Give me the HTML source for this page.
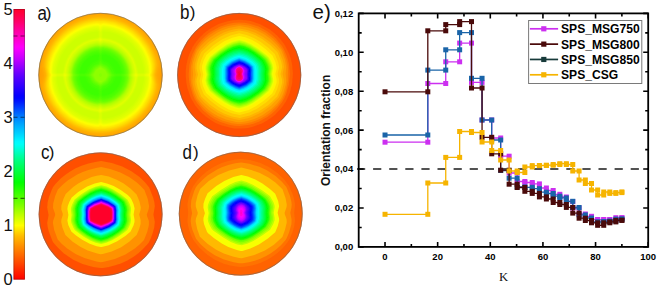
<!DOCTYPE html>
<html><head><meta charset="utf-8"><style>
html,body{margin:0;padding:0;background:#fff;width:660px;height:289px;overflow:hidden}
svg{display:block}
</style></head><body>
<svg width="660" height="289" viewBox="0 0 660 289">
<rect width="660" height="289" fill="#fff"/>
<defs><linearGradient id="cbg" x1="0" y1="1" x2="0" y2="0"><stop offset="0.000" stop-color="#ff0000"/><stop offset="0.010" stop-color="#ff0c00"/><stop offset="0.020" stop-color="#ff1800"/><stop offset="0.030" stop-color="#ff2300"/><stop offset="0.040" stop-color="#ff2f00"/><stop offset="0.050" stop-color="#ff3b00"/><stop offset="0.060" stop-color="#ff4700"/><stop offset="0.070" stop-color="#ff5200"/><stop offset="0.080" stop-color="#ff5d00"/><stop offset="0.090" stop-color="#ff6900"/><stop offset="0.100" stop-color="#ff7400"/><stop offset="0.110" stop-color="#ff8000"/><stop offset="0.120" stop-color="#ff8b00"/><stop offset="0.130" stop-color="#ff9700"/><stop offset="0.140" stop-color="#ffa300"/><stop offset="0.150" stop-color="#ffaf00"/><stop offset="0.160" stop-color="#ffbb00"/><stop offset="0.170" stop-color="#ffca00"/><stop offset="0.180" stop-color="#ffdc00"/><stop offset="0.190" stop-color="#ffed00"/><stop offset="0.200" stop-color="#ffff00"/><stop offset="0.210" stop-color="#eeff00"/><stop offset="0.220" stop-color="#ddff00"/><stop offset="0.230" stop-color="#cdff00"/><stop offset="0.240" stop-color="#bcff00"/><stop offset="0.250" stop-color="#aaff00"/><stop offset="0.260" stop-color="#98ff00"/><stop offset="0.270" stop-color="#86ff00"/><stop offset="0.280" stop-color="#75ff00"/><stop offset="0.290" stop-color="#66ff00"/><stop offset="0.300" stop-color="#57ff00"/><stop offset="0.310" stop-color="#48ff00"/><stop offset="0.320" stop-color="#39ff00"/><stop offset="0.330" stop-color="#2aff00"/><stop offset="0.340" stop-color="#1bff00"/><stop offset="0.350" stop-color="#0cff00"/><stop offset="0.360" stop-color="#00ff03"/><stop offset="0.370" stop-color="#00ff12"/><stop offset="0.380" stop-color="#00ff21"/><stop offset="0.390" stop-color="#00ff31"/><stop offset="0.400" stop-color="#00ff40"/><stop offset="0.410" stop-color="#00ff50"/><stop offset="0.420" stop-color="#00ff60"/><stop offset="0.430" stop-color="#00ff70"/><stop offset="0.440" stop-color="#00ff80"/><stop offset="0.450" stop-color="#00ff94"/><stop offset="0.460" stop-color="#00ffa8"/><stop offset="0.470" stop-color="#00ffbd"/><stop offset="0.480" stop-color="#00ffd1"/><stop offset="0.490" stop-color="#00ffe6"/><stop offset="0.500" stop-color="#00fff8"/><stop offset="0.510" stop-color="#00f9ff"/><stop offset="0.520" stop-color="#00ecff"/><stop offset="0.530" stop-color="#00deff"/><stop offset="0.540" stop-color="#00d1ff"/><stop offset="0.550" stop-color="#00c5ff"/><stop offset="0.560" stop-color="#00b9ff"/><stop offset="0.570" stop-color="#00acff"/><stop offset="0.580" stop-color="#009eff"/><stop offset="0.590" stop-color="#008fff"/><stop offset="0.600" stop-color="#0080ff"/><stop offset="0.610" stop-color="#006eff"/><stop offset="0.620" stop-color="#005cff"/><stop offset="0.630" stop-color="#004aff"/><stop offset="0.640" stop-color="#0038ff"/><stop offset="0.650" stop-color="#0026ff"/><stop offset="0.660" stop-color="#0014ff"/><stop offset="0.670" stop-color="#0006ff"/><stop offset="0.680" stop-color="#0600ff"/><stop offset="0.690" stop-color="#1200ff"/><stop offset="0.700" stop-color="#1e00ff"/><stop offset="0.710" stop-color="#2a00ff"/><stop offset="0.720" stop-color="#3600ff"/><stop offset="0.730" stop-color="#4200ff"/><stop offset="0.740" stop-color="#4e00ff"/><stop offset="0.750" stop-color="#5a00ff"/><stop offset="0.760" stop-color="#6800ff"/><stop offset="0.770" stop-color="#7900ff"/><stop offset="0.780" stop-color="#8a00ff"/><stop offset="0.790" stop-color="#9a00ff"/><stop offset="0.800" stop-color="#ab00ff"/><stop offset="0.810" stop-color="#bc00ff"/><stop offset="0.820" stop-color="#cb00ff"/><stop offset="0.830" stop-color="#d900ff"/><stop offset="0.840" stop-color="#e700ff"/><stop offset="0.850" stop-color="#f500ff"/><stop offset="0.860" stop-color="#ff00f9"/><stop offset="0.870" stop-color="#ff00e9"/><stop offset="0.880" stop-color="#ff00da"/><stop offset="0.890" stop-color="#ff00cb"/><stop offset="0.900" stop-color="#ff00bd"/><stop offset="0.910" stop-color="#ff00af"/><stop offset="0.920" stop-color="#ff00a1"/><stop offset="0.930" stop-color="#ff0090"/><stop offset="0.940" stop-color="#ff0080"/><stop offset="0.950" stop-color="#ff006f"/><stop offset="0.960" stop-color="#ff005e"/><stop offset="0.970" stop-color="#ff0051"/><stop offset="0.980" stop-color="#ff0044"/><stop offset="0.990" stop-color="#ff0037"/><stop offset="1.000" stop-color="#ff002b"/></linearGradient></defs>
<rect x="13.50" y="9.00" width="11.40" height="270.60" fill="url(#cbg)"/>
<rect x="13.90" y="9.40" width="10.60" height="269.80" fill="none" stroke="#000" stroke-opacity="0.3" stroke-width="0.8"/>
<line x1="13.50" y1="198.42" x2="24.90" y2="198.42" stroke="#000" stroke-width="1.1" stroke-dasharray="4 3" opacity="0.55"/>
<line x1="13.50" y1="117.24" x2="24.90" y2="117.24" stroke="#000" stroke-width="1.1" stroke-dasharray="4 3" opacity="0.55"/>
<line x1="13.50" y1="36.06" x2="24.90" y2="36.06" stroke="#000" stroke-width="1.1" stroke-dasharray="4 3" opacity="0.55"/>
<text x="12.8" y="285.20" font-family='"Liberation Sans", sans-serif' font-size="16.5" text-anchor="end" fill="#111">0</text>
<text x="12.8" y="231.08" font-family='"Liberation Sans", sans-serif' font-size="16.5" text-anchor="end" fill="#111">1</text>
<text x="12.8" y="176.96" font-family='"Liberation Sans", sans-serif' font-size="16.5" text-anchor="end" fill="#111">2</text>
<text x="12.8" y="122.84" font-family='"Liberation Sans", sans-serif' font-size="16.5" text-anchor="end" fill="#111">3</text>
<text x="12.8" y="68.72" font-family='"Liberation Sans", sans-serif' font-size="16.5" text-anchor="end" fill="#111">4</text>
<text x="12.8" y="14.60" font-family='"Liberation Sans", sans-serif' font-size="16.5" text-anchor="end" fill="#111">5</text>
<defs><filter id="pfblur" x="-10%" y="-10%" width="120%" height="120%"><feGaussianBlur stdDeviation="0.6"/></filter></defs>
<clipPath id="cpa"><circle cx="100.50" cy="75.00" r="62.10"/></clipPath>
<g clip-path="url(#cpa)"><g filter="url(#pfblur)">
<circle cx="100.50" cy="75.00" r="66.10" fill="#ff8400"/>
<path d="M163.4 137.9L37.9 137.9L37.9 12.4L163.4 12.4L163.4 137.9Z" fill="#ff8900" fill-rule="evenodd"/>
<path d="M142.4 137.9L57.9 137.9L54.9 135.4L54.4 135.4L52.4 133.4L51.9 133.4L42.4 123.9L42.4 123.4L38.9 119.4L38.9 118.9L37.9 117.9L37.9 31.9L40.9 28.4L40.9 27.9L43.4 25.4L43.4 24.9L46.4 21.9L50.4 17.9L50.9 17.9L53.4 15.4L53.9 15.4L57.4 12.4L143.4 12.4L146.4 14.9L146.9 14.9L148.9 16.9L149.4 16.9L158.9 26.4L158.9 26.9L162.4 30.9L162.4 31.4L163.4 32.4L163.4 117.4L161.4 119.9L161.4 120.4L159.4 122.4L159.4 122.9L151.9 130.9L151.4 130.9L148.4 133.9L147.9 133.9L143.9 137.4L142.4 137.9Z" fill="#ff8e00" fill-rule="evenodd"/>
<path d="M136.9 137.9L64.0 137.9L56.4 132.8L49.4 126.7L43.3 119.9L37.9 112.0L37.9 38.0L42.9 30.6L48.9 23.8L55.9 17.6L63.5 12.4L137.5 12.4L145.4 17.8L152.2 23.9L158.3 30.9L163.3 38.4L163.4 111.5L158.1 119.4L151.9 126.4L144.5 132.9L136.9 137.9Z" fill="#ff9200" fill-rule="evenodd"/>
<path d="M130.4 137.9L70.1 137.9L60.4 132.2L51.4 124.7L43.9 115.9L37.9 106.0L37.9 44.0L43.7 34.4L50.9 25.8L59.6 18.4L69.5 12.4L131.5 12.4L141.4 18.4L149.9 25.6L157.3 34.4L163.3 44.4L163.4 105.4L160.4 110.9L157.1 115.9L153.4 120.6L149.4 124.9L144.9 128.9L139.9 132.7L134.4 136.1L130.4 137.9Z" fill="#ff9700" fill-rule="evenodd"/>
<path d="M123.4 137.9L77.5 137.9L73.4 136.2L67.4 133.2L61.9 129.7L57.4 126.3L52.2 121.4L47.1 115.4L43.6 110.4L40.6 104.9L38.1 99.4L37.9 78.4L38.5 74.9L37.9 71.6L37.9 51.2L39.3 47.9L42.6 41.4L46.1 35.9L50.1 30.9L54.4 26.4L59.4 22.1L64.4 18.6L70.4 15.2L76.4 12.5L124.3 12.4L127.4 13.7L133.4 16.7L138.9 20.1L143.9 24.0L149.1 28.9L153.8 34.4L157.2 39.4L160.6 45.4L163.2 51.4L163.4 70.7L162.5 74.9L163.4 79.3L163.4 97.9L161.2 103.4L158.3 108.9L154.7 114.4L150.2 119.9L145.4 124.7L140.4 128.8L135.4 132.2L128.9 135.7L123.4 137.9Z" fill="#ff9c00" fill-rule="evenodd"/>
<path d="M114.4 137.9L86.2 137.9L76.4 134.8L67.4 130.4L62.2 126.9L57.4 123.0L52.9 118.5L49.1 113.9L45.6 108.9L42.6 103.4L40.2 97.9L38.5 92.4L37.9 88.9L38.0 85.4L40.2 77.4L40.5 74.9L40.1 72.4L38.1 65.4L38.0 60.4L38.8 56.4L40.3 51.9L44.8 42.4L48.4 37.0L52.4 32.0L56.9 27.5L61.9 23.3L67.4 19.6L72.9 16.7L78.9 14.2L85.0 12.4L116.0 12.4L124.9 15.3L132.9 19.2L137.9 22.5L142.9 26.4L147.4 30.7L151.4 35.4L154.9 40.4L158.1 45.9L160.7 51.9L162.5 57.4L163.1 60.9L163.0 64.4L160.5 74.9L160.8 77.4L162.9 84.9L163.0 89.9L162.1 93.9L160.6 98.4L155.9 108.0L152.3 113.4L147.9 118.7L143.1 123.4L138.1 127.4L132.4 131.1L126.4 134.1L119.9 136.5L114.4 137.9Z" fill="#ffa100" fill-rule="evenodd"/>
<path d="M104.9 136.9L93.9 136.7L88.4 135.9L82.9 134.5L77.4 132.6L72.4 130.3L67.4 127.5L62.9 124.4L54.7 116.9L51.0 112.4L47.9 107.9L45.1 102.9L42.6 97.4L41.0 92.4L40.2 87.9L40.4 83.9L42.5 75.4L42.3 72.9L40.3 64.9L40.7 58.9L42.1 53.9L44.4 48.4L47.4 42.9L50.8 37.9L54.9 32.9L59.5 28.4L64.9 24.2L70.4 20.7L76.4 17.8L82.9 15.5L89.4 13.9L95.9 13.1L106.9 13.3L112.4 14.1L117.9 15.4L123.4 17.3L128.4 19.6L133.4 22.4L137.9 25.5L146.1 32.9L149.9 37.4L153.0 41.9L155.8 46.9L158.3 52.4L160.0 57.4L160.8 61.9L160.6 65.9L158.5 74.9L158.8 77.4L160.7 84.9L160.4 90.9L158.9 95.9L156.7 101.4L153.7 106.9L150.4 111.9L146.3 116.9L141.4 121.7L136.0 125.9L130.4 129.4L124.4 132.3L117.9 134.6L111.4 136.1L104.9 136.9Z" fill="#ffa500" fill-rule="evenodd"/>
<path d="M107.9 134.9L102.4 135.3L96.9 135.3L91.4 134.7L85.9 133.6L80.4 131.9L75.4 129.9L70.4 127.3L65.8 124.4L61.4 121.0L57.4 117.3L53.5 112.9L50.2 108.4L47.2 103.4L44.7 97.9L42.9 92.9L41.9 88.4L42.0 83.9L43.6 77.4L43.9 74.9L41.9 65.4L42.2 59.9L43.4 55.4L45.6 49.9L51.0 40.4L54.9 35.4L59.3 30.9L64.0 26.9L69.4 23.3L74.9 20.3L80.9 17.9L86.9 16.2L92.9 15.1L98.4 14.7L103.9 14.7L109.4 15.3L114.9 16.4L120.4 18.0L125.4 20.0L134.9 25.4L139.4 28.8L143.4 32.5L147.3 36.9L150.6 41.4L153.7 46.4L156.1 51.4L158.1 56.9L159.0 61.4L159.0 65.9L157.1 74.9L159.1 84.4L158.8 89.9L157.6 94.4L155.5 99.9L150.1 109.4L146.2 114.4L141.9 118.9L137.2 122.9L131.9 126.6L126.4 129.5L120.4 132.0L114.4 133.7L107.9 134.9Z" fill="#ffaa00" fill-rule="evenodd"/>
<path d="M107.9 133.9L102.4 134.4L96.9 134.3L86.4 132.7L80.9 131.1L75.9 129.1L70.9 126.5L66.4 123.6L61.9 120.1L57.9 116.4L54.4 112.4L51.0 107.9L48.1 102.9L45.7 97.9L43.9 92.9L42.9 88.4L42.9 83.9L44.7 74.9L42.8 65.9L43.1 60.4L44.3 55.9L46.2 50.9L51.5 41.4L55.4 36.4L59.6 31.9L64.4 27.8L69.4 24.4L74.9 21.4L80.9 18.9L86.9 17.2L92.9 16.1L98.4 15.6L103.9 15.7L109.4 16.3L114.9 17.4L120.4 19.0L125.4 21.1L134.7 26.4L139.2 29.9L143.4 33.9L150.2 42.4L153.1 47.4L155.4 52.4L157.2 57.4L158.1 61.9L158.1 66.4L156.3 74.9L158.2 84.4L157.9 89.9L156.6 94.4L154.7 99.4L152.1 104.4L149.3 108.9L145.4 113.9L141.1 118.4L136.4 122.3L131.4 125.7L125.9 128.7L119.9 131.1L113.9 132.9L107.9 133.9Z" fill="#ffaf00" fill-rule="evenodd"/>
<path d="M102.4 133.4L93.9 133.1L87.9 132.1L82.4 130.6L72.9 126.6L68.9 124.2L63.9 120.6L59.4 116.6L55.5 112.4L49.6 103.9L47.1 98.9L45.1 93.9L44.1 90.4L43.6 86.4L43.7 83.9L45.5 75.4L45.4 73.4L43.6 65.4L44.1 59.9L45.6 54.9L48.1 48.9L50.6 44.4L54.1 39.4L57.5 35.4L62.4 30.6L68.4 26.1L73.4 23.1L78.9 20.6L84.9 18.6L91.9 17.1L97.9 16.5L103.9 16.6L108.9 17.1L119.4 19.6L128.4 23.6L133.4 26.6L137.4 29.6L141.6 33.4L145.3 37.4L150.7 44.9L155.3 54.4L156.7 58.9L157.4 63.4L157.2 66.9L155.6 74.9L155.9 77.9L157.3 83.9L157.3 87.9L156.7 90.9L155.1 95.9L152.7 101.4L150.2 105.9L146.7 110.9L142.3 115.9L136.9 120.8L131.4 124.7L126.9 127.2L121.4 129.7L114.9 131.7L107.4 133.1L102.4 133.4Z" fill="#ffb300" fill-rule="evenodd"/>
<path d="M102.4 132.9L92.4 132.4L82.4 130.0L72.9 125.9L64.4 120.3L56.9 113.2L50.9 104.9L48.2 99.9L46.1 94.9L44.7 90.4L44.1 86.4L44.4 82.9L45.9 75.4L45.7 72.9L44.2 65.9L44.7 59.9L46.2 54.9L48.5 49.4L51.4 44.2L54.9 39.3L58.9 34.7L63.5 30.4L68.4 26.8L74.2 23.4L79.9 20.8L85.9 18.9L91.9 17.7L98.4 17.1L108.9 17.7L118.9 20.1L128.4 24.2L136.9 29.9L144.4 37.2L150.4 45.6L153.0 50.4L155.0 55.4L156.3 59.9L156.9 63.9L156.7 66.9L155.1 74.9L156.8 84.4L156.3 90.4L154.7 95.4L152.3 100.9L149.4 106.1L146.0 110.9L141.9 115.5L137.1 119.9L131.9 123.7L126.4 126.8L120.9 129.2L114.9 131.1L108.9 132.3L102.4 132.9Z" fill="#ffb800" fill-rule="evenodd"/>
<path d="M102.4 132.4L92.7 131.9L82.4 129.5L72.9 125.4L64.7 119.9L60.7 116.4L56.9 112.4L50.9 104.0L48.4 99.2L46.4 94.3L45.1 89.9L44.6 85.9L44.8 82.9L46.3 75.4L44.7 65.9L44.7 62.9L45.3 59.4L46.9 54.4L49.3 48.9L52.2 43.9L55.4 39.4L59.4 34.9L63.9 30.7L69.1 26.9L74.4 23.8L79.9 21.4L86.1 19.4L91.9 18.2L98.4 17.6L108.9 18.2L118.3 20.4L127.7 24.4L136.4 30.2L143.9 37.4L149.9 45.7L152.4 50.4L154.5 55.4L155.9 60.2L156.4 63.9L156.1 67.4L154.7 74.9L156.4 84.4L155.9 89.8L154.4 94.8L152.0 100.4L149.4 105.1L145.9 110.2L141.9 114.8L137.4 119.0L132.2 122.9L126.9 126.0L121.4 128.5L114.9 130.6L108.4 131.9L102.4 132.4Z" fill="#ffbd00" fill-rule="evenodd"/>
<path d="M107.4 131.4L96.9 131.7L86.4 130.1L76.4 126.5L67.7 121.4L63.4 118.1L59.5 114.4L53.1 106.4L50.4 101.9L48.0 96.9L46.3 91.9L45.3 87.4L45.3 83.4L46.8 74.9L45.2 66.4L45.6 60.9L46.8 56.4L48.8 51.4L53.9 42.4L57.4 37.9L61.8 33.4L66.4 29.5L71.0 26.4L76.4 23.5L81.9 21.3L87.4 19.7L93.4 18.6L103.9 18.3L113.9 19.8L123.9 23.2L133.0 28.4L137.4 31.8L141.3 35.4L147.7 43.4L150.5 47.9L152.9 52.9L154.7 57.9L155.7 62.4L155.7 66.9L154.2 74.9L155.8 83.9L155.5 88.9L154.3 93.4L152.3 98.4L147.2 107.4L143.4 112.3L139.4 116.4L134.9 120.2L129.9 123.6L124.4 126.6L118.9 128.8L113.4 130.4L107.4 131.4Z" fill="#ffc300" fill-rule="evenodd"/>
<path d="M105.9 130.9L95.9 131.0L85.9 129.2L76.4 125.7L67.4 120.4L59.5 113.4L53.3 105.4L50.6 100.9L48.4 95.9L46.7 90.9L45.9 86.9L45.9 82.9L47.3 74.9L45.8 66.4L46.2 60.9L47.5 56.4L49.5 51.4L51.9 46.8L54.9 42.2L58.8 37.4L62.9 33.3L67.4 29.6L72.4 26.4L77.9 23.6L83.4 21.5L88.9 20.0L94.9 19.1L105.4 19.0L115.4 20.8L124.9 24.4L133.9 29.8L141.8 36.9L147.9 44.9L150.5 49.4L152.8 54.4L154.4 59.4L155.2 63.4L155.1 67.4L153.7 74.9L155.2 83.4L154.8 88.9L153.6 93.4L151.4 98.8L148.9 103.5L145.9 108.1L142.0 112.9L137.9 116.9L133.4 120.5L128.4 123.8L122.9 126.5L117.4 128.6L111.9 130.0L105.9 130.9Z" fill="#ffca00" fill-rule="evenodd"/>
<path d="M103.9 130.4L93.9 130.1L84.4 128.1L74.9 124.3L66.5 118.9L59.0 111.9L53.1 103.9L50.6 99.4L48.5 94.4L47.1 89.9L46.4 85.9L46.5 82.4L47.8 74.9L46.4 66.4L46.9 60.9L48.4 55.9L50.5 50.9L53.2 45.9L56.3 41.4L60.1 36.9L64.4 32.8L69.4 29.0L74.4 26.0L79.9 23.4L85.4 21.6L90.9 20.3L96.9 19.6L106.9 19.9L116.9 22.0L125.9 25.6L134.4 31.0L141.9 38.0L148.1 46.4L150.5 50.9L152.6 55.9L154.0 60.4L154.6 64.4L154.5 67.9L153.2 74.9L154.6 83.4L154.0 89.4L152.5 94.4L150.4 99.4L147.6 104.4L144.5 108.9L140.6 113.4L136.3 117.4L131.4 121.1L126.4 124.1L120.9 126.6L115.4 128.5L109.9 129.7L103.9 130.4Z" fill="#ffd100" fill-rule="evenodd"/>
<path d="M107.4 129.4L97.9 129.8L87.9 128.4L82.7 126.9L77.7 124.9L68.9 119.8L64.5 116.4L60.9 113.0L54.5 104.9L51.9 100.4L49.4 95.0L47.9 90.4L47.1 86.4L47.1 81.9L48.3 74.9L47.0 66.9L47.4 61.7L48.4 57.9L50.4 52.7L52.9 47.7L55.9 43.1L59.4 38.7L63.4 34.6L67.9 30.9L72.4 27.9L78.2 24.9L83.3 22.9L88.9 21.4L94.4 20.5L104.4 20.3L114.3 21.9L123.9 25.4L132.4 30.4L140.0 36.9L146.4 45.0L148.9 49.2L151.3 54.4L152.9 58.9L153.9 63.4L153.9 67.9L152.7 74.9L154.0 82.9L153.6 88.4L152.4 92.7L150.4 97.8L145.4 106.5L141.9 111.0L137.9 115.1L133.4 118.9L128.9 121.9L123.4 124.9L118.4 126.9L113.1 128.4L107.4 129.4Z" fill="#ffd800" fill-rule="evenodd"/>
<path d="M105.4 128.9L95.4 128.9L85.9 127.1L76.4 123.5L67.9 118.2L60.4 111.4L54.4 103.4L51.9 98.9L49.8 93.9L48.4 89.4L47.7 85.4L47.8 80.9L48.9 74.9L47.6 67.4L48.2 61.4L49.5 56.9L51.5 51.9L53.9 47.4L56.9 42.9L60.6 38.4L64.7 34.4L69.1 30.9L73.9 27.8L78.9 25.3L84.4 23.3L89.9 21.9L95.4 21.1L105.4 21.1L114.9 22.8L124.4 26.4L132.9 31.6L140.4 38.4L146.5 46.4L149.0 50.9L151.2 55.9L152.6 60.4L153.3 64.4L153.2 68.9L152.1 74.9L153.4 82.4L152.9 88.4L151.4 93.4L149.4 98.3L146.9 102.9L143.9 107.4L140.1 111.9L136.0 115.9L131.5 119.4L126.9 122.3L121.9 124.7L116.4 126.8L110.9 128.1L105.4 128.9Z" fill="#ffdf00" fill-rule="evenodd"/>
<path d="M107.9 127.9L103.4 128.4L97.4 128.4L87.9 126.9L78.4 123.7L69.9 118.8L62.3 112.4L55.9 104.4L51.1 95.4L49.4 90.6L48.5 86.4L48.3 81.4L49.5 74.9L48.3 68.4L48.7 62.4L49.9 57.9L51.6 53.4L53.9 48.9L56.7 44.4L60.2 39.9L63.9 36.1L67.9 32.7L72.4 29.5L77.4 26.8L82.4 24.7L87.4 23.2L92.9 22.1L97.4 21.6L103.4 21.6L112.9 23.0L122.4 26.2L126.9 28.5L131.4 31.4L139.0 37.9L145.3 45.9L150.0 54.9L151.7 59.9L152.6 63.9L152.7 68.9L151.5 74.9L152.7 81.9L152.3 87.9L149.3 96.9L144.4 105.5L141.0 109.9L137.1 113.9L132.9 117.5L128.4 120.6L123.4 123.3L118.4 125.4L113.4 126.9L107.9 127.9Z" fill="#ffe600" fill-rule="evenodd"/>
<path d="M106.4 127.4L102.9 127.7L100.4 127.2L96.4 127.6L86.9 126.0L77.9 122.7L69.4 117.6L61.9 110.9L55.9 103.1L53.4 98.7L51.3 93.9L49.8 89.4L49.0 85.4L49.1 79.4L50.0 74.9L49.3 72.4L48.9 68.4L49.4 62.3L50.6 57.9L52.6 52.9L55.0 48.4L57.9 43.9L61.4 39.6L65.1 35.9L69.4 32.4L73.9 29.5L78.9 26.9L83.9 24.9L88.9 23.6L94.4 22.6L98.4 22.4L100.4 22.8L104.4 22.4L113.9 24.0L123.2 27.4L131.6 32.4L138.9 38.9L145.1 46.9L149.7 55.9L151.3 60.9L152.0 64.9L151.9 71.4L151.0 74.9L151.7 77.4L152.1 81.4L151.6 87.9L150.3 92.4L148.4 97.1L143.2 105.9L139.9 110.1L135.9 114.1L131.4 117.7L126.9 120.7L121.9 123.2L116.9 125.1L111.9 126.5L106.4 127.4Z" fill="#ffed00" fill-rule="evenodd"/>
<path d="M103.9 126.9L100.4 126.2L98.4 126.9L94.4 126.7L84.9 124.6L76.4 121.1L68.3 115.9L61.4 109.3L55.7 101.4L51.5 92.4L50.1 87.9L49.5 83.9L49.7 77.9L50.6 74.9L49.7 72.4L49.5 68.4L50.3 61.4L51.7 56.9L53.9 51.9L56.4 47.4L59.5 42.9L63.0 38.9L66.9 35.3L71.3 31.9L75.9 29.1L80.9 26.8L85.9 25.0L91.4 23.8L96.9 23.1L98.4 23.1L100.4 23.8L102.9 23.1L106.4 23.3L115.9 25.3L124.9 29.0L132.9 34.3L139.9 41.0L145.5 48.9L149.6 57.9L150.9 62.4L151.5 66.4L151.3 72.4L150.4 74.9L151.2 77.4L151.5 81.4L150.7 88.4L149.2 93.4L147.0 98.4L144.4 102.9L141.4 107.2L137.9 111.2L133.9 114.9L129.4 118.3L124.9 121.0L119.9 123.3L114.9 125.0L109.4 126.3L103.9 126.9Z" fill="#fff400" fill-rule="evenodd"/>
<path d="M106.9 125.9L102.9 126.2L100.4 125.3L98.4 126.2L96.9 126.2L87.9 124.8L78.9 121.6L70.4 116.6L62.9 110.0L57.1 102.4L52.6 93.4L51.1 88.9L50.3 84.9L50.2 77.9L51.1 74.9L50.3 72.9L50.1 70.4L50.1 66.4L50.7 62.9L51.9 58.4L53.9 53.4L58.9 44.9L62.1 40.9L65.9 37.1L69.9 33.8L74.4 30.8L78.9 28.4L83.9 26.4L88.9 25.0L93.9 24.1L97.9 23.8L100.4 24.7L102.4 23.9L103.9 23.8L112.9 25.2L122.1 28.4L130.6 33.4L137.9 39.8L143.9 47.6L148.4 56.4L149.8 60.9L150.8 65.4L150.8 71.9L149.9 74.9L150.7 77.4L150.9 80.4L150.3 87.4L147.2 96.4L142.2 104.9L139.1 108.9L135.4 112.7L131.4 116.0L126.9 119.0L122.4 121.4L117.4 123.5L112.4 124.9L106.9 125.9Z" fill="#fffb00" fill-rule="evenodd"/>
<path d="M105.4 125.4L102.4 125.4L100.4 124.4L98.4 125.5L95.9 125.5L86.4 123.7L77.4 120.1L69.4 115.0L62.4 108.4L56.9 100.8L52.7 91.9L51.4 87.4L50.8 83.4L50.7 77.9L51.7 74.9L50.8 72.9L50.6 70.4L50.8 66.4L51.5 62.4L52.8 57.9L54.9 52.9L60.1 44.4L63.5 40.4L67.4 36.6L71.4 33.5L75.9 30.7L80.4 28.5L85.4 26.6L90.4 25.4L95.4 24.6L98.4 24.5L100.4 25.6L102.4 24.6L104.9 24.5L114.4 26.3L123.4 29.8L131.4 34.9L138.4 41.4L143.9 48.9L148.2 57.9L149.5 62.4L150.2 66.4L150.3 72.4L149.3 74.9L150.3 77.4L150.4 79.4L150.2 83.4L149.6 87.4L148.3 91.9L146.2 96.9L143.7 101.4L140.9 105.6L137.7 109.4L133.9 113.1L129.9 116.3L125.4 119.1L120.9 121.4L115.9 123.3L110.9 124.6L105.4 125.4Z" fill="#fcff00" fill-rule="evenodd"/>
<path d="M107.9 124.4L102.9 124.8L100.4 123.5L98.4 124.8L96.9 124.9L88.9 123.6L79.9 120.5L71.4 115.6L64.2 109.4L58.4 101.9L54.0 93.4L52.5 88.9L51.5 84.4L51.2 77.9L52.2 74.9L51.2 71.9L51.8 63.9L54.7 54.9L59.5 46.4L65.9 38.9L69.9 35.5L73.9 32.7L78.4 30.2L82.9 28.2L87.9 26.6L92.9 25.6L97.9 25.1L100.4 26.5L102.4 25.3L103.9 25.1L111.9 26.3L120.9 29.4L129.4 34.2L136.6 40.4L142.5 47.9L146.9 56.4L148.5 60.9L149.5 65.4L149.8 72.4L148.8 74.9L149.8 77.4L149.8 79.9L149.1 86.4L146.1 95.4L141.3 103.9L134.8 111.4L126.9 117.5L122.4 119.9L117.9 121.9L112.9 123.4L107.9 124.4Z" fill="#f5ff00" fill-rule="evenodd"/>
<path d="M106.9 123.9L102.9 124.2L100.4 122.3L98.9 123.8L97.9 124.2L93.4 123.8L88.4 122.8L79.4 119.6L71.4 114.8L64.2 108.4L58.5 100.9L54.3 92.4L52.9 87.9L52.0 83.4L51.7 77.4L53.2 74.9L51.9 73.4L51.6 71.9L52.6 63.4L55.7 54.4L60.7 45.9L63.9 41.9L67.4 38.4L71.4 35.2L75.4 32.5L84.4 28.4L93.9 26.1L98.4 25.9L100.4 27.7L102.4 26.0L103.4 25.8L107.9 26.2L112.9 27.3L121.9 30.6L129.9 35.4L136.9 41.7L142.7 49.4L146.8 57.9L148.2 62.4L149.0 66.9L149.3 72.4L148.9 73.7L147.8 74.9L148.9 76.4L149.4 77.9L149.1 82.4L148.3 86.9L145.2 95.9L140.1 104.4L136.9 108.3L133.4 111.7L125.4 117.6L116.4 121.7L106.9 123.9Z" fill="#eeff00" fill-rule="evenodd"/>
<path d="M105.4 123.4L102.4 123.3L100.4 120.9L99.1 122.9L97.9 123.5L92.9 123.1L86.9 121.7L78.4 118.4L70.4 113.2L63.4 106.5L58.1 98.9L54.3 90.4L52.4 81.4L52.3 76.9L54.6 74.9L52.5 73.4L52.2 72.4L52.5 67.4L53.6 61.9L57.1 52.9L62.3 44.9L68.9 38.0L76.9 32.4L85.9 28.6L95.4 26.6L98.4 26.6L100.4 29.1L100.9 28.9L102.1 26.9L103.4 26.5L108.4 27.0L113.9 28.2L122.9 31.8L130.8 36.9L137.5 43.4L143.1 51.4L146.8 59.9L148.7 68.9L148.8 72.9L148.4 73.6L146.4 74.9L146.6 75.4L148.4 76.4L148.9 77.9L148.4 83.3L147.3 88.4L143.7 97.4L138.5 105.4L131.9 112.2L123.9 117.7L114.9 121.5L105.4 123.4ZM101.2 39.9L101.5 39.4L100.9 38.8L100.4 38.7L99.5 39.4L100.4 40.3L101.2 39.9ZM65.1 75.9L65.8 74.9L64.9 74.0L64.2 74.9L65.1 75.9ZM136.1 75.9L136.8 74.9L135.9 74.0L135.2 74.9L136.1 75.9ZM101.2 110.9L101.5 110.4L100.9 109.8L100.4 109.7L99.5 110.4L100.4 111.3L101.2 110.9Z" fill="#e8ff00" fill-rule="evenodd"/>
<path d="M107.9 122.4L102.9 122.7L100.9 119.7L100.4 119.4L97.9 122.8L90.3 121.9L84.9 120.4L81.2 118.9L75.4 115.9L72.4 113.9L64.9 107.1L61.4 102.8L58.9 98.9L54.9 89.9L52.9 81.1L52.9 77.4L55.8 75.4L56.1 74.9L53.7 73.4L52.8 72.4L52.9 68.9L53.9 63.6L55.4 58.7L57.4 53.9L62.4 45.9L68.9 38.9L73.4 35.4L77.4 32.9L85.6 29.4L94.4 27.4L98.2 27.4L100.4 30.6L100.9 30.3L102.4 27.8L103.4 27.2L106.6 27.4L112.0 28.4L120.5 31.4L124.4 33.4L129.0 36.4L135.9 42.7L141.4 49.9L143.9 54.6L145.9 59.4L147.9 67.5L148.3 72.4L144.9 74.9L145.2 75.4L147.7 76.9L148.3 77.9L147.4 85.1L144.4 94.4L139.9 102.4L135.9 107.4L132.9 110.4L126.4 115.4L117.4 119.9L107.9 122.4ZM101.0 40.9L102.2 39.4L100.4 37.8L98.8 39.4L99.9 40.9L100.4 41.2L101.0 40.9ZM65.5 76.4L66.7 74.9L64.9 73.3L63.3 74.9L64.9 76.7L65.5 76.4ZM136.4 76.4L137.7 74.9L135.9 73.1L134.3 74.9L135.9 76.8L136.4 76.4ZM101.0 111.9L102.3 110.4L100.4 108.8L98.6 110.4L99.9 111.9L100.4 112.2L101.0 111.9Z" fill="#e1ff00" fill-rule="evenodd"/>
<path d="M104.4 121.4L103.4 121.4L102.4 120.8L100.4 117.9L98.4 121.0L97.4 121.4L91.9 120.8L86.4 119.4L78.2 115.9L70.8 110.9L64.4 104.4L59.4 96.9L55.9 88.4L54.1 79.4L54.3 77.4L57.8 74.9L55.1 73.4L54.1 71.9L54.6 66.9L56.0 61.4L59.5 52.9L64.5 45.4L71.1 38.9L78.9 33.7L87.4 30.3L96.4 28.6L98.4 29.0L100.4 32.3L102.4 29.2L103.4 28.6L108.4 29.1L114.4 30.6L122.9 34.2L130.4 39.3L136.9 45.9L141.8 53.4L145.2 61.9L146.9 70.9L146.5 72.9L143.4 74.9L146.3 76.9L146.9 77.9L146.4 82.9L144.9 88.9L141.3 97.4L136.2 104.9L129.6 111.4L121.9 116.4L113.4 119.7L104.4 121.4ZM100.7 112.9L102.9 111.0L110.4 109.5L116.4 107.2L121.4 104.2L125.9 100.4L129.4 96.3L132.5 91.4L135.0 84.9L136.5 77.4L138.9 74.9L136.4 72.4L135.0 64.9L132.4 58.4L129.4 53.7L125.7 49.4L121.4 45.8L116.4 42.8L110.4 40.5L102.9 39.0L100.4 36.9L97.9 39.1L90.9 40.4L84.4 42.9L79.4 45.9L75.3 49.4L71.4 53.9L68.4 58.9L65.9 65.4L64.6 72.4L62.4 74.9L64.5 77.4L66.0 84.9L68.3 90.9L71.3 95.9L75.1 100.4L79.9 104.4L84.9 107.4L90.9 109.6L97.9 110.9L100.4 113.4L100.7 112.9ZM103.9 109.9L102.4 109.6L100.4 108.0L98.4 109.7L97.4 109.9L90.4 108.6L83.9 105.9L78.4 102.2L73.5 97.4L69.8 91.9L67.0 85.4L65.6 78.9L65.9 76.9L67.5 74.9L65.6 72.4L66.8 65.4L69.3 58.9L72.9 53.3L77.6 48.4L83.4 44.4L89.9 41.6L96.4 40.2L98.4 40.3L100.4 42.0L102.4 40.4L103.4 40.1L109.9 41.2L116.4 43.7L122.2 47.4L127.3 52.4L131.1 57.9L133.9 64.4L135.3 70.9L135.2 72.9L133.5 74.9L135.1 76.9L135.4 77.9L134.3 84.4L131.8 90.9L127.9 96.9L122.9 102.0L117.1 105.9L110.9 108.5L103.9 109.9Z" fill="#daff00" fill-rule="evenodd"/>
<path d="M62.4 73.9L57.9 73.9L56.5 73.4L55.6 72.4L55.6 69.9L56.9 63.4L58.9 57.4L61.9 51.6L65.6 46.4L68.8 42.9L72.4 39.7L76.4 36.8L80.9 34.3L85.4 32.5L90.4 31.0L96.4 30.0L98.4 30.4L99.4 32.4L99.4 36.9L98.9 37.6L97.9 38.2L89.4 40.0L83.5 42.4L77.4 46.4L72.3 51.4L69.4 55.4L66.9 60.1L64.9 65.9L63.7 72.4L62.4 73.9ZM143.4 73.9L138.4 73.9L137.5 72.9L135.8 64.9L133.4 58.6L129.5 52.4L124.8 47.4L120.4 44.1L115.4 41.4L109.9 39.5L102.9 38.2L101.9 37.4L101.6 36.9L101.6 32.4L102.4 30.6L103.9 30.0L108.9 30.6L113.9 31.9L118.4 33.6L126.4 38.0L133.2 43.9L139.0 51.4L141.4 55.9L143.2 60.4L144.7 65.9L145.5 71.4L145.1 72.9L143.4 73.9ZM104.9 109.0L102.9 109.0L100.4 107.4L97.9 109.0L91.4 108.0L84.9 105.5L79.4 102.0L74.6 97.4L70.7 91.9L68.0 85.9L66.5 79.4L66.5 77.4L68.1 74.9L66.5 72.4L67.5 65.9L69.9 59.6L73.4 54.1L77.9 49.3L83.4 45.3L89.4 42.6L95.9 41.1L98.4 41.1L100.4 42.6L103.4 40.9L109.4 41.9L115.9 44.4L121.4 47.9L126.2 52.4L130.2 57.9L132.9 63.9L134.4 70.4L134.4 72.9L132.9 74.9L134.6 77.9L133.6 83.9L131.1 90.4L127.6 95.9L122.9 100.9L117.4 104.8L111.4 107.5L104.9 109.0ZM97.4 120.0L89.4 118.8L81.4 115.9L74.4 111.8L67.9 106.2L62.5 99.4L58.6 91.9L57.1 87.4L56.0 82.4L55.5 78.4L56.1 76.9L57.9 76.1L62.4 76.1L63.4 76.9L65.3 85.4L67.9 91.9L71.8 97.9L76.9 103.2L81.4 106.4L86.4 108.9L91.9 110.7L97.9 111.8L98.9 112.4L99.4 113.4L99.4 117.9L98.4 119.6L97.4 120.0ZM104.9 119.9L102.9 119.8L101.6 117.9L101.6 113.4L101.9 112.6L103.4 111.7L109.4 110.7L114.9 108.8L119.6 106.4L123.9 103.3L129.2 97.9L133.1 91.9L135.7 85.4L137.6 76.9L138.9 76.1L143.4 76.1L144.9 76.9L145.5 78.4L145.1 81.9L144.0 86.9L142.6 91.4L138.8 98.9L133.4 105.9L127.4 111.3L120.4 115.5L112.9 118.4L104.9 119.9Z" fill="#d3ff00" fill-rule="evenodd"/>
<path d="M62.4 73.1L57.3 72.9L56.9 71.4L57.5 66.9L59.0 61.4L61.2 55.9L64.0 50.9L67.4 46.4L73.9 40.3L77.9 37.6L81.9 35.4L86.4 33.6L91.4 32.2L96.9 31.4L98.4 31.8L98.4 37.1L89.9 38.9L83.4 41.5L77.3 45.4L72.1 50.4L68.4 55.4L65.9 60.4L64.3 64.9L62.9 72.4L62.4 73.1ZM143.4 73.1L138.3 72.9L136.8 65.4L134.7 59.4L131.4 53.6L127.1 48.4L121.9 44.1L116.3 40.9L110.4 38.7L102.9 37.3L102.4 36.9L102.6 31.9L103.9 31.4L108.4 32.0L112.9 33.1L117.4 34.7L124.9 38.7L131.4 44.1L136.9 50.8L140.9 58.4L142.5 62.9L143.6 67.9L144.1 71.9L143.4 73.1ZM105.9 108.0L102.9 108.2L100.4 106.8L97.9 108.2L92.9 107.5L86.6 105.4L80.9 102.1L75.9 97.6L72.0 92.4L69.1 86.4L67.5 80.4L67.3 77.4L68.7 74.9L67.3 72.4L68.0 67.4L70.0 61.4L73.4 55.4L77.9 50.4L82.9 46.6L88.9 43.7L94.9 42.1L97.9 41.8L100.4 43.2L103.4 41.8L107.9 42.4L114.4 44.6L119.9 47.8L124.9 52.2L128.9 57.4L131.8 63.4L133.4 69.4L133.7 72.4L132.3 74.9L133.7 77.9L133.1 82.4L130.9 88.9L127.7 94.4L123.3 99.4L118.1 103.4L112.4 106.2L105.9 108.0ZM97.9 118.5L94.9 118.4L90.4 117.5L82.6 114.9L75.6 110.9L69.4 105.7L64.2 99.4L60.2 91.9L58.6 87.4L57.5 82.9L56.9 78.4L57.4 77.1L62.4 76.9L62.8 77.4L64.1 84.4L66.2 90.4L69.6 96.4L73.8 101.4L78.9 105.8L84.9 109.2L90.9 111.3L98.4 112.8L98.6 117.9L97.9 118.5ZM105.4 118.4L103.4 118.5L102.4 117.9L102.5 112.9L109.9 111.4L115.4 109.5L120.4 106.9L125.4 103.2L130.3 97.9L134.1 91.9L136.6 85.4L138.4 77.0L143.4 76.9L144.0 77.9L143.7 81.4L141.4 90.4L137.7 97.9L132.9 104.4L126.9 109.8L120.4 113.9L112.9 116.9L105.4 118.4Z" fill="#cdff00" fill-rule="evenodd"/>
<path d="M104.9 107.4L102.9 107.5L100.4 106.2L97.9 107.5L91.9 106.6L85.9 104.3L80.5 100.9L75.9 96.5L72.2 91.4L69.5 85.4L68.1 79.4L68.0 77.4L69.3 74.9L68.0 72.4L68.8 66.9L71.0 60.9L74.3 55.4L78.9 50.4L83.9 46.8L89.4 44.2L95.9 42.6L98.4 42.6L100.4 43.8L103.4 42.5L108.4 43.3L114.9 45.6L120.4 49.1L125.1 53.4L129.0 58.9L131.4 64.4L132.9 70.9L132.9 72.9L131.7 74.9L133.0 77.9L132.0 83.9L129.6 89.9L126.4 94.9L121.9 99.7L116.9 103.3L110.9 106.0L104.9 107.4Z" fill="#c6ff00" fill-rule="evenodd"/>
<path d="M103.9 106.9L102.4 106.7L100.4 105.6L97.9 106.9L91.4 105.8L85.5 103.4L80.4 100.0L75.9 95.6L72.4 90.5L70.0 84.9L68.6 78.9L68.8 76.9L69.9 74.9L68.6 72.4L69.6 66.4L71.9 60.4L75.1 55.4L79.4 50.8L84.4 47.2L90.4 44.5L96.4 43.2L98.4 43.2L100.4 44.4L103.4 43.1L108.9 44.0L114.9 46.3L119.9 49.4L124.7 53.9L128.3 58.9L131.0 64.9L132.3 70.9L132.3 72.9L131.1 74.9L132.4 77.9L131.5 83.4L129.2 89.4L125.7 94.9L121.4 99.4L115.9 103.2L109.9 105.7L103.9 106.9Z" fill="#bfff00" fill-rule="evenodd"/>
<path d="M106.4 105.9L102.9 106.3L100.4 105.1L97.9 106.3L94.4 105.9L88.4 104.1L82.9 101.1L78.4 97.4L74.2 92.4L71.3 86.9L69.6 80.9L69.2 77.4L70.5 74.9L69.2 72.4L69.6 68.9L71.4 62.9L74.4 57.4L78.1 52.9L82.9 48.9L88.4 45.9L94.4 44.1L97.9 43.7L100.4 45.0L102.9 43.7L106.4 44.1L112.4 45.8L117.9 48.7L122.9 52.9L126.6 57.4L129.6 62.9L131.4 68.9L131.8 72.4L130.6 74.9L131.8 77.4L131.4 80.9L129.7 86.9L126.8 92.4L122.6 97.4L117.9 101.3L112.4 104.2L106.4 105.9Z" fill="#b8ff00" fill-rule="evenodd"/>
<path d="M105.9 105.4L102.9 105.7L100.4 104.7L97.9 105.7L93.9 105.2L88.3 103.4L82.9 100.4L78.2 96.4L74.4 91.5L71.8 86.4L70.1 80.4L69.8 77.4L70.8 74.9L69.8 72.4L70.3 68.4L72.1 62.9L75.1 57.4L78.9 52.9L83.9 48.9L89.4 46.2L94.9 44.6L97.9 44.3L100.4 45.3L102.9 44.3L106.9 44.8L112.4 46.5L117.9 49.5L122.6 53.4L126.4 58.1L129.1 63.4L130.9 69.4L131.2 72.4L130.2 74.9L131.2 77.4L130.7 81.4L128.8 87.4L125.9 92.6L121.9 97.3L117.4 100.9L111.9 103.7L105.9 105.4Z" fill="#b1ff00" fill-rule="evenodd"/>
<path d="M105.4 104.9L102.9 105.1L100.4 104.3L97.4 105.1L92.9 104.3L87.4 102.3L82.4 99.3L77.9 95.2L74.4 90.4L72.0 85.4L70.5 79.4L70.4 77.4L71.2 74.9L70.4 72.4L71.0 67.9L72.9 62.4L76.2 56.9L80.3 52.4L84.9 49.0L90.4 46.4L95.9 45.0L98.4 45.0L100.4 45.7L103.4 44.9L107.4 45.5L112.9 47.4L118.2 50.4L122.7 54.4L126.2 58.9L128.9 64.4L130.4 69.9L130.6 72.4L129.8 74.9L130.6 77.9L130.0 81.9L128.4 86.9L125.3 92.4L121.4 96.9L116.4 100.8L111.4 103.3L105.4 104.9Z" fill="#aaff00" fill-rule="evenodd"/>
<path d="M105.4 104.4L102.9 104.7L100.4 103.9L97.4 104.7L93.9 104.1L87.9 102.1L82.9 99.1L78.7 95.4L75.2 90.9L72.7 85.9L71.2 80.4L70.8 77.4L71.6 74.9L70.8 72.4L71.3 68.9L73.2 62.9L75.7 58.4L79.4 53.9L83.9 50.2L89.4 47.3L94.9 45.7L97.9 45.3L100.4 46.1L103.4 45.3L106.4 45.7L112.4 47.6L117.9 50.8L122.1 54.4L125.6 58.9L128.6 64.9L130.0 70.4L130.1 72.9L129.4 74.9L130.2 77.9L129.5 81.9L127.6 87.4L125.1 91.9L120.9 96.8L115.9 100.6L110.9 103.0L105.4 104.4Z" fill="#a3ff00" fill-rule="evenodd"/>
<path d="M105.9 104.0L102.9 104.3L100.4 103.6L97.9 104.3L94.4 103.8L88.9 102.1L83.9 99.4L79.4 95.6L75.9 91.2L73.1 85.9L71.5 80.4L71.2 77.4L71.9 74.9L71.2 72.4L71.7 68.9L73.4 63.4L76.1 58.4L79.9 53.9L84.4 50.3L89.4 47.7L94.9 46.1L97.9 45.7L100.4 46.4L103.4 45.7L106.4 46.1L111.9 47.8L116.9 50.5L121.4 54.2L125.2 58.9L127.8 63.9L129.4 69.4L129.8 72.4L129.1 74.9L129.8 77.9L129.4 80.9L127.7 86.4L124.9 91.5L120.9 96.3L116.4 99.8L111.4 102.4L105.9 104.0Z" fill="#9bff00" fill-rule="evenodd"/>
<path d="M103.9 103.9L100.4 103.2L97.4 103.9L92.4 103.0L87.2 100.9L82.5 97.9L78.4 94.0L75.2 89.4L72.9 84.4L71.6 78.9L71.6 76.9L72.3 74.9L71.6 71.9L72.4 67.4L74.4 62.1L77.4 57.3L81.4 53.0L85.9 49.8L91.4 47.3L96.9 46.1L98.4 46.1L100.4 46.8L103.4 46.0L108.4 47.0L113.4 48.9L118.4 52.0L122.5 55.9L125.9 60.8L128.2 65.9L129.4 71.4L129.4 72.9L128.7 74.9L129.5 77.9L128.5 82.9L126.4 88.3L123.5 92.9L119.4 97.1L114.9 100.3L109.4 102.7L103.9 103.9Z" fill="#94ff00" fill-rule="evenodd"/>
<path d="M104.9 103.4L102.9 103.6L100.4 102.9L97.4 103.6L93.4 102.9L88.0 100.9L83.4 98.1L79.3 94.4L75.9 89.9L73.5 84.9L72.1 79.4L71.9 77.4L72.6 74.9L71.9 71.9L72.6 67.9L74.4 62.9L77.4 57.9L81.0 53.9L85.4 50.5L90.4 48.1L95.9 46.6L98.4 46.4L100.4 47.1L103.4 46.4L107.4 47.1L112.6 48.9L117.4 51.7L121.6 55.4L125.0 59.9L127.4 64.9L128.9 70.4L129.1 72.9L128.4 74.9L129.1 77.9L128.4 81.9L126.7 86.9L123.8 91.9L119.9 96.2L115.4 99.6L110.4 102.0L104.9 103.4ZM101.1 69.4L101.6 68.9L101.5 68.4L100.4 68.0L99.5 68.4L99.4 68.9L99.9 69.4L101.1 69.4ZM106.4 75.4L106.4 74.4L106.4 75.4ZM100.9 81.9L101.7 81.4L101.4 80.8L100.4 80.5L99.5 80.9L99.3 81.4L100.9 81.9Z" fill="#8dff00" fill-rule="evenodd"/>
<path d="M105.4 103.0L102.9 103.2L100.4 102.5L97.9 103.2L94.4 102.7L89.4 101.2L84.4 98.4L80.2 94.9L76.6 90.4L74.1 85.4L72.5 79.9L72.3 77.4L73.0 74.9L72.3 72.4L72.8 68.9L74.4 63.8L77.1 58.9L80.4 54.9L84.9 51.3L89.9 48.6L95.4 47.0L98.4 46.8L100.4 47.5L103.4 46.8L106.4 47.2L111.9 49.0L116.9 51.8L121.1 55.4L124.4 59.6L126.9 64.4L128.5 69.9L128.7 72.9L128.0 74.9L128.7 77.9L128.3 80.9L126.5 86.4L123.7 91.4L120.3 95.4L115.9 98.9L110.9 101.4L105.4 103.0ZM101.2 82.4L104.9 79.9L106.0 78.4L107.4 74.9L104.9 70.1L100.4 67.3L95.9 70.3L93.6 74.9L94.9 78.1L96.4 80.2L99.9 82.5L101.2 82.4ZM101.4 76.5L100.4 76.9L99.2 75.9L99.1 74.4L99.9 73.3L100.9 73.2L101.7 73.9L102.0 75.4L101.4 76.5Z" fill="#86ff00" fill-rule="evenodd"/>
<path d="M106.4 102.4L103.4 102.9L100.4 102.2L98.4 102.9L95.4 102.6L90.4 101.2L85.4 98.6L80.9 95.1L77.4 90.9L74.6 85.9L73.1 80.9L72.6 77.9L73.3 74.9L72.6 72.9L72.9 69.9L74.3 64.9L76.9 59.9L80.4 55.4L84.4 52.0L89.4 49.2L94.4 47.6L97.9 47.1L100.4 47.8L102.9 47.1L105.4 47.4L110.4 48.7L115.4 51.2L119.9 54.7L123.5 58.9L126.3 63.9L127.9 68.9L128.4 72.4L127.7 74.9L128.4 77.4L128.1 79.9L126.8 84.9L124.3 89.9L120.9 94.3L116.7 97.9L111.9 100.6L106.4 102.4ZM101.4 82.9L105.6 79.9L108.3 74.9L105.4 69.9L100.4 66.6L95.6 69.9L92.7 74.9L94.7 78.9L95.9 80.5L99.9 83.2L100.4 83.4L101.4 82.9Z" fill="#7fff00" fill-rule="evenodd"/>
<path d="M104.4 102.4L102.4 102.5L100.4 101.7L98.9 102.4L97.4 102.5L93.4 101.8L88.4 99.9L83.9 97.2L79.8 93.4L76.5 88.9L74.3 83.9L73.1 78.9L73.0 76.9L73.8 74.9L73.1 73.4L73.0 71.9L73.7 67.9L75.6 62.9L78.3 58.4L82.0 54.4L86.4 51.2L91.4 48.8L96.4 47.6L98.4 47.5L100.4 48.3L102.9 47.5L107.4 48.2L112.4 50.0L116.9 52.7L121.0 56.4L124.3 60.9L126.7 65.9L127.9 70.9L128.0 72.9L127.2 74.9L128.0 77.4L127.4 81.6L125.5 86.9L122.8 91.4L119.2 95.4L114.9 98.7L109.9 101.1L104.4 102.4ZM100.9 83.9L105.9 80.4L109.1 74.9L105.7 69.4L100.4 66.0L95.3 69.4L91.9 74.9L95.4 80.7L99.9 83.8L100.9 83.9Z" fill="#78ff00" fill-rule="evenodd"/>
<path d="M105.4 101.9L102.4 102.1L100.4 101.1L98.4 102.1L94.4 101.7L89.4 100.0L84.9 97.5L80.9 94.1L77.6 89.9L75.2 85.4L73.6 79.9L73.4 76.9L74.4 74.9L73.4 72.9L73.7 69.4L75.4 64.1L78.0 59.4L81.4 55.4L85.4 52.2L90.4 49.6L95.4 48.1L98.4 47.9L100.4 48.9L102.9 47.8L105.9 48.2L110.9 49.7L115.9 52.4L120.1 55.9L123.4 60.0L125.9 64.9L127.4 70.0L127.6 72.9L126.6 74.9L127.7 77.4L127.2 80.9L125.6 85.9L123.1 90.4L119.8 94.4L115.4 97.9L110.4 100.5L105.4 101.9ZM100.7 84.4L106.1 80.9L109.8 74.9L105.9 68.9L100.4 65.5L95.1 68.9L91.2 74.9L94.9 80.9L99.9 84.3L100.7 84.4Z" fill="#72ff00" fill-rule="evenodd"/>
<path d="M105.9 101.4L102.9 101.8L100.4 100.5L98.4 101.7L94.9 101.4L90.1 99.9L85.4 97.4L80.9 93.5L77.4 88.9L75.4 84.9L73.9 79.6L73.9 76.9L75.0 74.9L73.7 72.4L74.4 68.2L75.9 63.9L78.4 59.5L81.4 55.9L85.8 52.4L90.6 49.9L95.9 48.4L98.4 48.3L100.4 49.5L102.9 48.3L107.4 48.9L111.6 50.4L115.9 52.9L119.9 56.3L122.9 59.9L125.4 64.6L126.9 69.4L127.2 72.9L126.0 74.9L127.3 77.4L126.9 80.6L125.4 85.4L122.9 90.0L119.4 94.2L115.5 97.4L110.9 99.9L105.9 101.4ZM100.5 84.9L106.4 81.3L110.4 74.9L106.4 68.7L104.7 67.4L100.4 65.1L95.9 67.6L94.4 68.9L90.6 74.9L94.7 81.4L100.5 84.9Z" fill="#6cff00" fill-rule="evenodd"/>
<path d="M105.4 100.9L102.9 101.2L100.4 99.9L98.4 101.1L95.4 100.9L90.4 99.4L85.8 96.9L81.6 93.4L78.4 89.4L76.0 84.9L74.6 79.9L74.3 77.4L75.6 74.9L74.4 72.9L74.6 69.9L76.1 64.9L78.5 60.4L81.8 56.4L85.9 53.0L90.4 50.6L95.4 49.1L98.4 48.9L100.4 50.1L102.9 48.8L105.9 49.2L110.9 50.7L115.4 53.2L119.2 56.4L122.5 60.4L124.9 64.9L126.4 69.9L126.6 72.9L125.4 74.9L126.7 77.4L126.3 80.4L124.8 85.4L122.3 89.9L118.9 93.9L114.9 97.1L110.4 99.5L105.4 100.9ZM100.8 85.4L105.4 82.7L107.0 81.4L111.0 74.9L106.8 68.4L104.9 66.9L100.4 64.5L94.2 68.4L90.0 74.9L92.9 79.9L94.4 81.8L99.9 85.3L100.8 85.4Z" fill="#66ff00" fill-rule="evenodd"/>
<path d="M104.9 100.4L102.9 100.6L100.4 99.3L97.9 100.6L94.9 100.2L89.9 98.5L85.4 95.9L81.9 92.9L78.8 88.9L76.5 84.4L75.1 79.4L74.9 77.4L76.2 74.9L74.9 72.4L75.3 69.4L77.0 64.4L79.4 60.2L82.6 56.4L86.4 53.4L90.9 51.1L95.9 49.6L98.4 49.5L100.4 50.7L102.9 49.4L105.9 49.8L110.9 51.4L115.3 53.9L118.9 56.9L122.1 60.9L124.4 65.4L125.9 70.4L126.0 72.9L124.8 74.9L126.1 77.4L125.7 80.4L124.1 85.4L121.6 89.9L118.4 93.6L114.4 96.7L109.9 99.0L104.9 100.4ZM101.0 85.9L107.4 81.7L111.6 74.9L110.1 72.9L108.7 69.9L107.0 67.9L100.4 63.9L93.9 68.0L92.4 69.8L90.9 72.9L89.4 74.9L92.4 80.2L93.9 82.0L99.9 85.9L101.0 85.9Z" fill="#60ff00" fill-rule="evenodd"/>
<path d="M103.9 100.0L102.4 99.8L100.4 98.4L98.9 99.7L97.9 100.0L94.4 99.5L89.9 97.9L85.4 95.2L81.8 91.9L78.9 87.9L76.7 83.4L75.6 78.9L75.7 76.9L77.1 74.9L75.8 73.4L75.5 72.4L76.0 68.9L77.6 64.4L80.3 59.9L83.5 56.4L87.5 53.4L91.9 51.3L96.9 50.1L98.4 50.1L100.4 51.6L102.9 50.0L106.9 50.6L111.4 52.3L115.7 54.9L119.4 58.3L122.3 62.4L124.4 66.9L125.4 71.4L125.4 72.9L123.9 74.9L125.5 77.4L124.9 81.4L123.2 85.9L120.4 90.4L116.9 94.1L113.0 96.9L108.4 98.9L103.9 100.0ZM101.2 86.4L102.9 85.0L105.9 83.7L107.9 82.0L112.2 74.9L107.8 67.9L105.9 66.3L100.4 63.3L98.4 64.8L94.9 66.5L93.2 67.9L88.8 74.9L91.8 80.4L93.5 82.4L95.4 83.8L98.4 85.2L99.9 86.5L100.4 86.7L101.2 86.4Z" fill="#5aff00" fill-rule="evenodd"/>
<path d="M105.9 99.0L102.4 99.2L100.4 97.3L98.4 99.3L96.4 99.3L91.9 98.0L87.4 95.8L83.6 92.9L80.4 89.2L78.0 84.9L76.5 80.4L76.3 76.9L78.2 74.9L76.4 73.3L76.2 70.9L77.5 66.4L79.7 61.9L82.8 57.9L86.3 54.9L90.4 52.6L94.9 51.0L98.4 50.7L100.4 52.7L102.4 50.8L104.4 50.7L108.9 51.9L113.4 54.1L117.2 56.9L120.4 60.5L122.9 64.9L124.5 69.4L124.8 72.9L122.8 74.9L124.7 76.9L124.8 78.9L123.6 83.4L121.4 88.0L118.4 91.9L114.9 94.9L110.7 97.4L105.9 99.0ZM101.0 87.4L102.4 85.9L105.9 84.4L108.4 82.4L109.9 80.4L111.4 76.9L113.3 74.9L111.3 72.9L109.9 69.7L108.2 67.4L105.9 65.6L102.4 64.1L100.4 62.2L98.4 64.2L95.4 65.5L92.9 67.3L91.3 69.4L89.7 72.9L87.7 74.9L89.6 76.9L91.1 80.4L93.1 82.9L95.4 84.5L98.4 85.8L100.4 87.8L101.0 87.4Z" fill="#54ff00" fill-rule="evenodd"/>
<path d="M105.4 98.5L102.9 98.6L100.4 96.2L98.4 98.5L95.4 98.4L91.9 97.4L87.9 95.4L84.0 92.4L80.9 88.8L78.4 84.3L76.9 79.4L76.9 77.3L79.3 74.9L77.0 72.9L76.9 70.7L77.9 66.9L80.4 61.9L83.7 57.9L87.4 54.9L92.4 52.4L96.2 51.4L98.4 51.5L100.4 53.8L102.8 51.4L104.9 51.4L109.8 52.9L114.3 55.4L117.9 58.5L120.9 62.4L122.9 66.4L123.9 69.7L124.0 72.9L121.7 74.9L124.1 77.4L123.9 80.3L122.4 84.8L120.4 88.4L117.5 91.9L113.9 94.9L110.3 96.9L105.4 98.5ZM101.0 88.9L102.4 86.6L106.1 84.9L108.7 82.9L110.5 80.4L112.1 76.9L114.6 75.4L114.9 74.9L112.3 73.4L110.4 69.4L108.5 66.9L105.9 65.0L102.4 63.5L100.9 60.9L100.4 60.6L98.7 63.4L94.9 65.1L92.5 66.9L90.6 69.4L88.9 73.2L86.1 74.9L86.4 75.4L89.0 76.9L90.7 80.9L92.8 83.4L94.9 84.9L98.9 86.8L100.4 89.4L101.0 88.9Z" fill="#4eff00" fill-rule="evenodd"/>
<path d="M104.9 97.4L102.9 97.5L100.4 94.9L98.4 97.4L95.9 97.4L91.9 96.2L87.9 94.1L84.4 91.2L81.6 87.9L79.4 83.9L78.1 79.4L77.9 77.9L78.3 76.9L80.8 74.9L78.6 73.4L77.9 71.9L79.1 66.9L81.4 62.4L84.3 58.9L87.9 55.9L91.9 53.8L95.9 52.6L98.4 52.6L100.4 55.3L102.4 52.8L103.9 52.4L108.4 53.6L113.1 55.9L116.4 58.6L119.4 62.1L121.5 65.9L122.9 70.4L122.9 72.9L120.4 74.9L123.0 77.4L122.9 79.4L121.6 83.9L119.4 87.9L116.4 91.4L112.9 94.2L108.9 96.3L104.9 97.4ZM100.6 90.9L102.9 87.1L106.9 85.3L109.6 82.9L111.3 80.4L112.6 77.4L116.8 74.9L112.9 72.9L109.8 67.4L107.4 65.1L102.9 62.9L100.9 59.2L100.4 58.9L98.4 62.6L92.9 65.6L90.1 68.9L88.4 72.6L84.4 74.9L84.7 75.4L88.4 77.4L91.0 82.4L93.9 85.1L97.9 86.9L100.4 91.3L100.6 90.9Z" fill="#48ff00" fill-rule="evenodd"/>
<path d="M84.4 73.9L80.4 73.8L79.1 72.4L80.2 67.4L82.8 62.4L85.9 58.9L89.9 56.0L94.9 54.0L97.4 53.5L98.4 53.8L99.4 55.4L99.4 58.9L98.4 61.0L93.9 63.1L91.4 64.9L88.9 67.9L86.9 72.4L84.4 73.9ZM120.4 73.9L116.4 73.9L114.5 72.9L112.4 68.4L110.1 65.4L107.4 63.3L102.9 61.3L101.6 58.9L101.6 55.4L102.4 53.9L104.4 53.6L109.4 55.2L113.2 57.4L116.6 60.4L119.5 64.4L121.3 68.9L121.9 72.4L120.4 73.9ZM97.9 96.4L94.9 96.0L90.9 94.5L87.5 92.4L84.7 89.9L82.3 86.9L80.4 83.2L79.1 78.9L79.4 76.9L80.9 76.1L84.4 76.1L86.2 76.9L87.1 77.9L88.8 81.9L90.9 84.6L93.9 86.9L98.4 89.0L99.4 90.9L99.4 94.9L97.9 96.4ZM103.9 96.4L102.4 96.1L101.6 94.9L101.6 90.9L102.9 88.7L107.1 86.9L109.9 84.8L112.2 81.9L113.9 77.9L114.8 76.9L116.9 76.1L120.4 76.1L121.6 76.9L121.9 78.4L120.7 82.9L119.0 86.4L116.8 89.4L113.9 92.1L110.9 94.1L107.4 95.6L103.9 96.4Z" fill="#42ff00" fill-rule="evenodd"/>
<path d="M84.4 73.1L80.9 73.1L80.4 72.8L80.2 71.9L81.6 66.9L84.2 62.4L87.4 59.1L90.9 56.8L95.4 55.1L98.3 54.9L98.6 55.4L98.4 59.4L92.9 61.8L89.9 64.1L87.6 66.9L85.3 72.4L84.4 73.1ZM120.4 73.1L116.1 72.9L113.7 67.4L111.4 64.4L107.9 61.7L102.9 59.7L102.4 58.9L102.4 55.4L102.7 54.9L104.9 54.9L109.3 56.4L112.4 58.2L115.4 60.8L117.8 63.9L119.6 67.4L120.7 71.4L120.4 73.1ZM98.4 95.1L96.4 95.2L91.9 93.7L88.8 91.9L85.9 89.5L83.4 86.4L81.7 83.4L80.4 79.4L80.4 77.2L80.9 76.9L84.4 76.9L85.2 77.4L87.2 82.4L89.9 85.9L92.9 88.2L98.4 90.6L98.4 95.1ZM105.4 95.0L103.4 95.3L102.4 94.9L102.4 90.9L103.4 90.0L107.9 88.3L111.1 85.9L113.5 82.9L115.5 77.9L116.4 76.9L120.4 76.9L120.8 78.4L119.9 81.9L118.4 85.1L116.4 88.1L114.1 90.4L111.4 92.4L108.4 94.0L105.4 95.0Z" fill="#3cff00" fill-rule="evenodd"/>
</g></g>
<circle cx="100.50" cy="75.00" r="61.80" fill="none" stroke="#6a6a6a" stroke-width="0.60"/>
<clipPath id="cpb"><circle cx="239.20" cy="75.00" r="62.00"/></clipPath>
<g clip-path="url(#cpb)"><g filter="url(#pfblur)">
<circle cx="239.20" cy="75.00" r="66.00" fill="#ff5000"/>
<path d="M241.2 128.6L234.7 128.4L230.7 127.8L221.2 125.3L215.7 122.9L211.2 120.3L206.2 116.8L202.7 113.8L198.9 110.0L195.3 105.5L190.9 98.0L187.4 88.0L186.4 83.0L185.8 76.0L185.9 70.0L186.4 65.0L187.9 58.5L189.4 54.0L192.9 46.5L196.4 41.5L199.8 37.5L204.2 33.2L208.7 29.7L212.7 27.2L218.7 24.1L227.7 21.2L233.2 20.2L239.2 19.7L245.7 20.2L250.7 21.1L260.2 24.3L269.2 29.2L273.2 32.2L277.4 36.0L281.0 40.0L285.0 45.5L289.0 53.5L290.5 58.0L292.0 64.0L292.9 73.5L292.0 84.0L289.5 93.5L285.9 101.5L282.5 106.5L279.6 110.0L274.7 114.9L271.2 117.8L266.7 120.8L262.2 123.2L252.7 126.8L247.7 127.9L241.2 128.6Z" fill="#ff6300" fill-rule="evenodd"/>
<path d="M239.7 126.0L234.7 125.7L229.2 124.8L219.7 121.7L214.7 119.2L210.7 116.7L203.2 110.4L197.0 103.0L194.8 99.5L193.0 95.5L189.9 85.5L189.0 80.0L188.7 74.5L189.5 64.5L191.0 58.5L192.5 54.0L196.0 47.0L198.8 43.0L202.7 38.5L206.7 34.8L210.7 31.7L219.7 26.7L228.7 23.7L234.2 22.8L239.2 22.4L244.2 22.7L249.7 23.7L258.7 26.6L267.2 31.3L271.2 34.2L275.7 38.3L282.0 46.0L283.8 49.0L285.9 53.5L287.5 58.0L289.0 64.0L289.9 74.0L288.9 84.5L286.0 94.5L284.0 99.0L281.9 102.5L275.8 110.0L271.7 113.8L267.7 116.8L259.7 121.3L254.7 123.3L249.7 124.7L239.7 126.0Z" fill="#ff7800" fill-rule="evenodd"/>
<path d="M240.7 124.0L237.2 124.0L231.7 123.2L222.2 120.4L213.7 116.2L206.2 110.7L200.7 105.1L196.2 99.0L194.0 94.0L192.3 89.0L191.2 84.0L190.7 79.5L190.8 67.0L192.4 59.0L196.1 49.5L201.2 42.7L205.2 38.6L209.2 35.3L213.7 32.2L218.2 29.7L223.2 27.6L228.2 26.0L233.7 24.9L239.2 24.3L248.7 25.6L257.2 28.3L265.7 32.7L273.2 38.4L278.7 44.3L283.0 50.5L286.5 60.0L287.5 65.0L287.9 69.0L287.8 81.0L286.3 89.0L284.6 94.0L282.4 99.0L277.7 105.3L270.2 112.5L265.7 115.7L261.2 118.3L256.2 120.5L251.2 122.2L245.7 123.4L240.7 124.0Z" fill="#ff8c00" fill-rule="evenodd"/>
<path d="M242.2 122.0L239.2 122.3L236.2 122.0L225.9 119.5L217.7 116.0L212.7 113.0L208.6 110.0L202.2 104.0L197.6 98.5L194.2 90.0L192.7 84.1L192.4 81.0L193.1 74.0L192.5 67.0L193.2 61.9L195.2 55.4L197.2 50.7L200.7 46.0L205.1 41.5L209.1 38.0L217.6 32.5L221.7 30.5L228.7 28.0L239.2 26.1L248.0 27.5L255.7 30.0L263.7 34.0L270.7 39.0L276.2 44.2L281.2 50.3L284.7 59.3L286.2 67.0L285.6 74.0L286.2 80.5L285.7 85.0L283.2 93.5L281.2 98.1L280.2 99.5L276.2 104.2L271.2 109.0L262.7 115.0L256.7 118.0L252.8 119.5L247.6 121.0L242.2 122.0Z" fill="#ffa000" fill-rule="evenodd"/>
<path d="M241.7 119.6L239.2 119.9L235.2 119.3L226.2 116.8L217.7 112.7L209.7 107.3L204.2 102.4L199.4 97.0L196.0 88.5L194.9 84.5L194.6 81.5L195.9 74.5L194.7 68.0L194.9 64.0L197.3 56.0L199.3 51.5L200.5 50.0L207.7 42.8L212.2 39.2L217.7 35.7L223.7 32.6L228.7 30.7L234.2 29.3L239.2 28.5L246.2 29.7L255.2 32.8L262.7 36.7L270.2 42.2L274.7 46.3L279.0 51.0L282.5 59.5L283.6 63.5L284.0 67.0L282.6 74.0L283.9 80.0L283.9 83.0L282.0 90.5L278.9 97.5L270.7 105.8L261.7 112.3L252.2 116.8L247.7 118.3L241.7 119.6Z" fill="#ffb300" fill-rule="evenodd"/>
<path d="M239.7 118.0L232.0 116.5L223.9 113.5L218.2 110.5L209.7 104.5L201.2 96.4L197.7 87.9L196.4 81.5L196.7 79.0L198.1 74.5L196.5 68.5L196.7 64.3L198.2 59.0L201.2 52.0L210.2 43.5L219.7 37.0L224.7 34.5L230.0 32.5L239.2 30.4L247.0 32.0L254.9 35.0L262.2 39.0L270.2 45.0L277.7 52.5L281.2 61.5L282.2 67.0L280.5 74.0L282.1 80.0L282.2 82.5L280.2 90.0L277.3 96.5L272.3 101.5L267.7 105.5L258.7 111.5L249.8 115.5L239.7 118.0Z" fill="#ffc800" fill-rule="evenodd"/>
<path d="M239.7 115.0L232.4 113.5L225.7 110.9L218.7 106.9L210.7 101.0L203.8 94.5L200.7 86.9L199.5 81.0L201.0 74.5L199.5 68.5L199.6 65.5L201.2 60.0L204.2 53.5L213.1 45.5L221.9 39.5L230.5 35.5L239.2 33.3L246.6 35.0L253.9 38.0L260.7 42.0L268.6 48.0L274.8 54.0L278.2 62.4L279.1 67.5L277.6 74.0L279.0 79.5L278.9 83.0L277.2 88.9L274.7 94.6L266.7 102.0L257.4 108.5L249.2 112.5L239.7 115.0Z" fill="#ffdd00" fill-rule="evenodd"/>
<path d="M241.2 112.1L239.2 112.4L236.2 111.9L228.7 109.4L221.2 105.3L214.2 100.3L206.1 93.0L203.0 86.0L201.9 81.0L203.3 74.5L202.0 69.0L202.0 66.0L203.5 61.0L206.4 55.0L214.7 47.7L224.2 41.3L232.2 37.7L239.2 36.0L245.2 37.3L252.2 40.1L258.2 43.6L265.7 49.2L272.5 55.5L275.4 62.0L276.7 67.5L276.5 69.5L275.3 74.0L276.6 79.5L276.6 82.5L275.0 87.5L272.2 93.4L263.7 100.8L255.7 106.3L248.7 109.9L241.2 112.1Z" fill="#fff300" fill-rule="evenodd"/>
<path d="M239.7 109.5L237.2 109.3L233.7 108.3L227.7 105.8L221.2 101.8L213.2 95.9L208.4 91.5L205.4 85.5L204.4 82.5L204.2 80.5L205.4 74.5L205.2 72.5L204.3 69.5L204.4 66.0L206.5 60.5L208.7 56.5L216.2 50.2L225.7 43.7L233.2 40.2L239.2 38.7L245.2 40.2L251.2 42.8L257.7 46.8L266.2 53.2L269.7 56.2L270.6 57.5L273.4 63.5L274.4 68.0L273.2 74.0L274.4 80.0L274.0 83.0L272.6 87.0L269.9 92.0L261.7 98.7L252.7 104.8L246.2 107.9L239.7 109.5Z" fill="#f2ff00" fill-rule="evenodd"/>
<path d="M240.7 108.1L239.2 108.3L236.2 107.7L229.7 105.3L224.2 102.2L215.2 95.8L209.6 91.0L206.5 85.0L205.4 80.5L206.5 74.5L205.4 69.0L205.5 66.5L206.9 62.5L209.9 57.0L217.7 50.7L226.7 44.6L232.7 41.8L239.2 40.1L245.7 41.7L251.2 44.2L258.2 48.8L266.7 55.3L269.0 57.5L271.0 61.0L272.5 64.5L273.2 68.0L272.1 74.0L273.1 79.0L273.1 82.0L271.4 86.5L269.0 91.0L260.7 97.8L252.7 103.3L246.7 106.3L240.7 108.1Z" fill="#d8ff00" fill-rule="evenodd"/>
<path d="M241.2 107.1L239.2 107.4L237.7 107.2L230.7 104.9L224.7 101.6L217.2 96.3L210.3 90.5L207.2 84.5L206.2 80.5L207.2 74.5L206.2 69.0L206.4 66.5L207.8 62.5L210.6 57.5L218.7 51.0L226.7 45.6L232.7 42.7L239.2 41.0L244.7 42.2L250.7 44.9L256.7 48.7L265.1 55.0L268.0 57.5L269.2 59.5L271.6 64.5L272.4 68.0L271.4 74.0L272.4 79.0L272.3 81.5L271.0 85.5L268.2 90.6L261.2 96.4L252.7 102.4L246.7 105.4L241.2 107.1Z" fill="#bcff00" fill-rule="evenodd"/>
<path d="M240.7 106.0L239.2 106.2L236.7 105.8L230.2 103.5L224.2 100.1L216.5 94.5L211.3 90.0L208.2 84.0L207.2 80.0L208.1 74.5L207.3 69.5L207.4 67.0L208.8 63.0L211.6 58.0L219.2 51.8L227.2 46.5L233.2 43.7L239.2 42.2L244.7 43.4L250.2 45.8L256.2 49.5L264.1 55.5L267.0 58.0L268.6 60.5L270.7 65.0L271.4 68.5L270.4 74.0L271.3 79.0L271.2 81.5L269.8 85.5L267.2 90.2L260.2 96.0L252.2 101.5L246.2 104.4L240.7 106.0Z" fill="#98ff00" fill-rule="evenodd"/>
<path d="M239.7 105.0L234.7 104.1L229.2 101.8L223.2 98.2L215.5 92.5L212.6 90.0L211.0 87.5L208.9 83.0L208.3 79.5L209.1 74.5L208.3 69.5L208.5 67.0L209.9 63.0L212.5 58.5L220.2 52.3L227.7 47.4L233.2 44.8L239.2 43.3L244.2 44.4L249.7 46.7L255.7 50.4L262.7 55.6L266.1 58.5L267.1 60.0L269.5 65.0L270.3 68.5L269.5 74.0L270.3 79.0L270.1 81.5L268.7 85.3L266.2 89.7L259.2 95.5L251.2 100.9L245.7 103.5L239.7 105.0Z" fill="#75ff00" fill-rule="evenodd"/>
<path d="M241.2 103.7L238.2 103.8L232.7 102.3L226.7 99.3L220.7 95.3L213.1 89.0L210.4 84.0L209.3 80.0L210.0 74.0L209.4 70.0L209.4 67.5L210.8 63.5L213.4 59.0L221.2 52.7L228.2 48.2L233.7 45.7L239.2 44.5L244.7 45.7L249.7 47.8L256.7 52.2L263.2 57.2L265.6 59.5L267.5 63.0L268.9 66.5L269.2 69.0L268.6 74.0L269.2 79.0L269.0 81.5L268.0 84.5L265.5 89.0L259.2 94.3L251.2 99.8L246.2 102.2L241.2 103.7Z" fill="#57ff00" fill-rule="evenodd"/>
<path d="M241.2 103.0L238.2 103.2L231.7 101.3L226.7 98.7L220.2 94.2L213.7 88.8L210.9 83.5L210.0 79.5L210.6 74.5L210.0 69.5L210.1 67.5L211.3 64.0L213.8 59.5L220.7 53.8L228.2 48.8L233.7 46.4L239.2 45.1L244.7 46.3L249.2 48.2L255.2 51.9L261.2 56.3L264.7 59.4L265.7 61.0L267.9 65.5L268.6 69.0L268.0 74.0L268.6 78.5L268.5 81.0L267.3 84.5L264.7 89.0L258.7 94.0L251.2 99.1L245.7 101.7L241.2 103.0Z" fill="#39ff00" fill-rule="evenodd"/>
<path d="M239.7 102.6L235.2 101.8L230.2 99.9L224.7 96.7L218.7 92.3L214.1 88.0L211.6 83.0L210.8 79.5L211.4 74.5L210.8 70.0L210.9 67.5L211.9 64.5L214.3 60.0L221.2 54.2L227.7 49.9L233.7 47.1L239.2 45.8L243.7 46.7L248.7 48.7L254.3 52.0L260.2 56.4L264.6 60.5L266.9 65.0L267.8 69.0L267.2 74.0L267.8 78.5L267.6 81.0L266.4 84.5L264.2 88.5L258.3 93.5L250.7 98.7L245.2 101.2L239.7 102.6Z" fill="#1bff00" fill-rule="evenodd"/>
<path d="M241.7 101.0L239.2 101.4L233.2 99.9L228.2 97.6L222.7 94.1L215.5 88.0L212.9 83.0L212.1 79.5L212.6 74.5L212.2 68.0L213.3 64.5L215.4 60.5L221.1 55.5L227.8 51.0L233.7 48.3L239.2 47.0L243.7 47.9L248.7 49.9L253.7 52.8L258.7 56.5L263.2 60.5L265.7 65.5L266.5 69.0L266.0 74.0L266.4 80.5L265.3 84.0L263.1 88.0L258.0 92.5L251.7 96.9L246.7 99.4L241.7 101.0Z" fill="#00ff03" fill-rule="evenodd"/>
<path d="M240.7 100.0L237.7 100.0L232.2 98.4L227.2 95.9L222.2 92.5L216.2 87.0L214.1 82.5L213.4 79.0L213.9 74.5L213.5 68.0L214.4 65.0L216.5 61.0L222.1 56.0L228.2 52.0L233.7 49.5L239.2 48.2L243.7 49.1L248.2 50.8L253.2 53.7L258.2 57.4L262.2 61.1L264.6 66.0L265.2 69.5L264.7 74.0L265.1 80.5L264.1 83.5L262.1 87.5L257.0 92.0L251.2 96.0L246.0 98.5L240.7 100.0Z" fill="#00ff21" fill-rule="evenodd"/>
<path d="M241.7 98.6L239.2 99.0L233.7 97.7L228.7 95.5L224.0 92.5L220.2 89.5L217.3 86.5L215.4 82.5L214.7 79.0L215.1 74.5L214.8 68.0L215.8 65.0L217.5 61.5L222.5 57.0L228.2 53.2L233.7 50.7L239.2 49.4L243.2 50.2L247.7 51.8L251.8 54.0L256.2 57.1L261.2 61.7L263.2 66.0L263.9 69.0L263.5 74.0L263.8 80.0L262.8 83.5L261.0 87.0L256.6 91.0L251.2 94.8L246.7 97.0L241.7 98.6Z" fill="#00ff40" fill-rule="evenodd"/>
<path d="M240.7 97.6L237.7 97.5L232.4 96.0L228.2 94.0L223.7 91.0L218.4 86.0L216.6 82.0L216.0 79.0L216.4 74.5L216.1 68.5L217.1 65.0L218.6 62.0L223.6 57.5L228.7 54.1L233.5 52.0L239.2 50.6L243.6 51.5L247.6 53.0L252.2 55.5L255.7 58.0L260.2 62.4L262.0 66.5L262.6 69.5L262.2 74.0L262.5 80.0L261.6 83.0L259.9 86.5L255.5 90.5L250.4 94.0L246.2 96.0L240.7 97.6Z" fill="#00ff60" fill-rule="evenodd"/>
<path d="M241.7 96.0L239.2 96.5L234.7 95.4L230.2 93.6L225.7 90.9L219.5 85.5L218.1 82.0L217.4 79.0L217.8 74.5L217.5 68.5L219.7 62.7L224.2 58.6L228.8 55.5L233.7 53.3L239.2 51.9L243.2 52.7L247.2 54.2L251.2 56.3L254.7 58.8L259.1 63.0L260.6 66.5L261.2 69.5L260.8 74.0L261.1 79.5L260.5 82.0L259.1 85.5L255.2 89.2L250.7 92.4L246.2 94.6L241.7 96.0Z" fill="#00ff80" fill-rule="evenodd"/>
<path d="M240.2 95.0L237.7 94.9L232.7 93.3L228.7 91.4L225.1 89.0L220.8 85.0L219.4 81.5L218.9 78.5L219.2 74.5L218.9 69.0L220.7 63.5L224.7 59.8L229.2 56.7L234.2 54.5L239.2 53.2L243.2 54.1L247.2 55.6L250.7 57.5L254.2 60.0L257.9 63.5L259.2 67.0L259.7 70.0L259.4 74.0L259.7 79.5L257.8 85.0L254.1 88.5L249.7 91.5L245.2 93.6L240.2 95.0Z" fill="#00ffa8" fill-rule="evenodd"/>
<path d="M240.7 93.6L239.2 93.8L233.7 92.3L230.2 90.7L226.2 88.2L221.8 84.0L220.7 81.0L220.3 78.5L220.4 69.0L222.0 64.0L225.8 60.5L230.2 57.7L234.7 55.7L239.2 54.6L242.7 55.3L246.7 56.8L253.2 60.8L256.7 64.1L257.8 67.0L258.3 70.0L258.2 79.5L256.5 84.5L253.2 87.6L249.2 90.3L245.2 92.2L240.7 93.6Z" fill="#00ffd1" fill-rule="evenodd"/>
<path d="M239.7 92.6L236.7 92.0L232.7 90.6L229.2 88.7L226.2 86.5L223.0 83.5L222.1 80.5L221.8 78.0L221.9 69.5L223.2 64.7L226.7 61.5L230.4 59.0L234.7 57.0L239.2 55.8L246.2 58.0L252.2 61.7L255.6 65.0L256.7 70.0L256.7 79.0L255.6 83.5L252.2 86.7L248.2 89.4L244.2 91.3L239.7 92.6Z" fill="#00fff8" fill-rule="evenodd"/>
<path d="M240.7 91.1L239.2 91.4L235.7 90.4L232.2 89.0L228.7 86.8L224.3 83.0L223.3 78.5L223.3 69.5L224.2 65.5L227.5 62.5L231.2 60.0L235.2 58.1L239.2 57.0L245.7 59.1L251.2 62.5L254.4 65.5L255.3 70.0L255.3 79.0L254.3 83.0L251.2 85.9L248.1 88.0L244.7 89.7L240.7 91.1Z" fill="#00ecff" fill-rule="evenodd"/>
<path d="M240.2 90.0L239.2 90.3L235.7 89.3L229.2 85.8L225.4 82.5L224.5 78.0L224.5 70.0L225.3 66.0L229.2 62.6L232.2 60.7L239.2 58.1L245.2 60.1L250.2 63.2L253.5 66.5L254.1 70.0L254.1 79.0L253.1 82.5L250.7 84.8L247.2 87.2L244.2 88.8L240.2 90.0Z" fill="#00d1ff" fill-rule="evenodd"/>
<path d="M240.2 89.5L239.2 89.8L235.3 88.5L229.7 85.5L225.8 82.0L225.1 78.5L225.1 70.0L225.7 66.5L228.3 64.0L231.7 61.6L235.2 59.9L239.2 58.6L244.7 60.5L249.7 63.5L252.9 66.5L253.5 70.0L253.5 78.5L252.8 82.0L247.2 86.6L243.7 88.4L240.2 89.5Z" fill="#00b9ff" fill-rule="evenodd"/>
<path d="M240.2 89.1L239.2 89.3L235.7 88.2L230.2 85.2L226.4 82.0L225.6 78.5L225.6 70.0L226.3 66.5L229.2 63.9L232.2 61.9L235.7 60.2L239.2 59.1L245.2 61.2L249.7 64.1L252.3 66.5L253.0 70.0L253.0 78.5L252.2 82.0L246.7 86.3L240.2 89.1Z" fill="#009eff" fill-rule="evenodd"/>
<path d="M240.2 88.6L239.2 88.8L236.5 88.0L230.6 85.0L226.6 81.5L226.1 78.5L226.1 69.5L226.7 66.8L232.1 62.5L236.2 60.5L239.2 59.6L244.7 61.5L248.8 64.0L252.0 67.0L252.5 70.0L252.5 78.5L252.0 81.5L247.2 85.5L243.4 87.5L240.2 88.6Z" fill="#007fff" fill-rule="evenodd"/>
<path d="M239.7 88.1L235.2 86.8L230.3 84.0L227.2 81.2L226.7 78.5L227.0 74.0L226.8 69.5L227.3 67.0L232.7 62.8L239.2 60.2L244.2 61.9L248.7 64.7L251.3 67.0L251.9 70.0L251.6 74.0L251.8 79.0L251.2 81.5L246.0 85.5L239.7 88.1Z" fill="#005cff" fill-rule="evenodd"/>
<path d="M240.7 87.1L239.2 87.5L238.2 87.2L232.2 84.5L227.8 81.0L227.4 79.0L227.7 74.0L227.4 70.0L227.7 67.5L232.8 63.5L239.2 60.9L243.7 62.4L247.7 64.7L250.8 67.5L251.2 69.5L250.9 74.0L251.2 78.5L250.8 81.0L246.2 84.7L240.7 87.1Z" fill="#0038ff" fill-rule="evenodd"/>
<path d="M240.2 86.6L239.2 86.8L236.7 86.0L231.8 83.5L228.4 80.5L228.1 78.5L228.3 68.0L230.3 66.0L233.2 64.0L239.2 61.6L243.7 63.1L247.6 65.5L250.2 67.9L250.5 70.0L250.2 80.5L245.7 84.2L240.2 86.6Z" fill="#0014ff" fill-rule="evenodd"/>
<path d="M239.7 86.0L236.2 85.1L232.2 83.0L229.2 80.4L228.8 78.5L229.1 74.0L228.8 70.0L229.2 68.0L233.7 64.5L239.2 62.3L243.2 63.6L246.7 65.6L249.4 68.0L249.8 70.0L249.5 74.0L249.7 80.0L248.2 81.6L245.6 83.5L239.7 86.0Z" fill="#0600ff" fill-rule="evenodd"/>
<path d="M240.7 85.0L239.2 85.4L233.7 83.2L229.8 80.0L229.4 78.5L229.8 74.5L229.4 70.5L229.7 68.5L233.7 65.2L239.2 63.0L242.7 64.1L245.7 65.7L248.7 68.2L249.1 69.5L248.8 74.0L249.2 78.5L248.8 80.0L245.2 83.0L240.7 85.0Z" fill="#1e00ff" fill-rule="evenodd"/>
<path d="M239.7 84.6L236.7 83.9L233.1 82.0L230.3 79.5L230.1 78.0L230.5 74.5L230.2 69.0L234.2 65.7L239.2 63.7L242.2 64.6L245.7 66.5L248.2 68.7L248.5 70.0L248.1 74.0L248.3 79.5L244.7 82.5L239.7 84.6Z" fill="#3600ff" fill-rule="evenodd"/>
<path d="M239.7 84.2L237.2 83.6L234.2 82.2L231.0 79.5L230.6 78.0L231.0 74.0L230.6 70.0L230.9 69.0L234.2 66.2L239.2 64.2L241.7 64.9L244.7 66.4L247.2 68.5L248.0 70.0L247.6 74.0L247.9 79.0L245.2 81.6L239.7 84.2Z" fill="#4e00ff" fill-rule="evenodd"/>
<path d="M240.2 83.7L238.7 83.7L234.7 82.1L232.0 80.0L231.0 78.5L231.4 74.0L231.1 69.5L234.4 66.5L239.2 64.5L242.2 65.5L244.7 66.8L246.7 68.5L247.6 70.0L247.2 74.0L247.5 79.0L244.7 81.6L240.2 83.7Z" fill="#6800ff" fill-rule="evenodd"/>
<path d="M239.2 83.5L235.2 82.0L231.7 79.0L231.9 74.0L231.6 70.5L231.7 69.5L234.3 67.0L237.1 65.5L239.2 64.9L241.5 65.5L244.3 67.0L246.2 68.7L247.1 70.5L246.7 74.0L247.1 78.0L246.8 79.0L244.2 81.5L241.2 83.0L239.2 83.5Z" fill="#8a00ff" fill-rule="evenodd"/>
<path d="M240.7 82.5L238.7 82.7L235.8 81.5L233.8 79.5L233.0 77.5L233.5 74.0L233.0 71.0L233.4 69.5L235.7 67.0L239.2 65.6L241.0 66.0L242.9 67.0L244.5 68.5L245.6 70.5L245.1 74.0L245.6 78.0L243.4 81.0L240.7 82.5Z" fill="#ab00ff" fill-rule="evenodd"/>
<path d="M239.7 82.2L237.2 81.7L235.7 80.5L234.6 79.0L234.1 77.0L234.7 74.5L234.1 71.5L234.6 69.5L236.2 67.4L239.2 66.2L240.2 66.3L242.2 67.2L243.8 69.0L244.5 71.0L243.9 74.0L244.5 77.0L244.2 78.5L243.4 80.0L242.2 81.2L239.7 82.2Z" fill="#cb00ff" fill-rule="evenodd"/>
<path d="M240.7 81.6L239.2 81.9L236.8 81.0L235.7 79.8L235.0 78.0L234.9 76.5L235.6 74.0L234.9 71.5L235.2 69.5L236.7 67.5L238.7 66.5L239.7 66.5L241.9 67.5L243.2 69.0L243.7 70.5L243.6 72.0L243.0 74.0L243.7 76.5L243.6 78.0L242.7 80.1L240.7 81.6Z" fill="#e700ff" fill-rule="evenodd"/>
<path d="M240.7 81.3L237.7 81.3L235.9 79.5L235.3 78.0L235.4 76.0L236.1 74.0L235.3 72.0L235.4 70.0L236.7 68.0L237.7 67.2L239.2 66.7L240.7 67.1L242.0 68.0L243.0 69.5L243.3 71.0L242.5 74.0L243.3 77.0L243.0 79.0L241.9 80.5L240.7 81.3Z" fill="#ff00f9" fill-rule="evenodd"/>
<path d="M240.7 81.1L238.7 81.3L237.2 80.7L236.1 79.5L235.5 78.0L235.5 76.5L236.3 74.0L235.5 72.0L235.6 70.0L236.9 68.0L237.7 67.4L239.2 67.0L240.7 67.3L241.7 67.9L242.8 69.5L243.0 70.5L242.9 72.5L242.3 74.0L243.0 76.5L242.9 78.5L242.1 80.0L240.7 81.1Z" fill="#ff00da" fill-rule="evenodd"/>
<path d="M240.2 81.1L238.2 81.1L237.2 80.5L236.2 79.4L235.6 77.5L236.5 74.0L235.7 71.8L235.8 70.0L237.1 68.0L239.2 67.2L240.7 67.4L241.7 68.1L242.7 69.7L242.9 71.0L242.1 74.0L242.9 76.5L242.8 78.5L241.7 80.2L240.2 81.1Z" fill="#ff00bd" fill-rule="evenodd"/>
<path d="M239.7 81.1L238.5 81.0L236.9 80.0L236.2 79.0L235.9 77.5L236.7 74.0L235.9 71.5L236.1 69.5L237.3 68.0L239.2 67.3L240.4 67.5L241.7 68.4L242.8 71.0L241.9 74.0L242.7 76.5L242.7 78.2L241.7 80.0L239.7 81.1Z" fill="#ff00a1" fill-rule="evenodd"/>
<path d="M240.7 80.5L238.0 80.5L236.7 79.5L236.2 78.5L236.2 76.0L237.0 74.0L236.2 72.5L236.2 70.0L237.7 68.0L239.2 67.5L240.8 68.0L241.7 68.8L242.2 69.5L242.5 71.0L241.7 74.0L242.5 77.0L242.2 79.0L240.7 80.5Z" fill="#ff007f" fill-rule="evenodd"/>
<path d="M239.7 79.1L238.7 79.0L237.7 78.4L236.9 76.5L237.5 74.0L236.9 72.5L237.1 71.0L237.7 70.0L239.2 69.3L240.9 70.0L241.7 72.0L241.1 74.0L241.7 77.0L240.8 78.5L239.7 79.1Z" fill="#ff005d" fill-rule="evenodd"/>
<path d="M239.7 77.1L238.2 76.6L237.9 75.5L238.2 74.0L237.9 72.5L238.2 71.8L239.2 71.2L240.2 71.5L240.7 72.5L240.4 74.0L240.7 76.0L239.7 77.1Z" fill="#ff0044" fill-rule="evenodd"/>
<path d="M239.2 75.2L238.9 74.5L239.2 73.2L239.7 73.4L239.8 74.5L239.7 75.0L239.2 75.2Z" fill="#ff002b" fill-rule="evenodd"/>
</g></g>
<circle cx="239.20" cy="75.00" r="61.70" fill="none" stroke="#6a6a6a" stroke-width="0.60"/>
<clipPath id="cpc"><circle cx="100.60" cy="214.30" r="61.90"/></clipPath>
<g clip-path="url(#cpc)"><g filter="url(#pfblur)">
<circle cx="100.60" cy="214.30" r="65.90" fill="#ff5000"/>
<path d="M102.7 267.9L100.7 268.1L93.2 266.9L82.6 263.9L72.8 259.4L64.0 253.4L57.7 247.6L52.9 241.9L48.8 231.4L47.7 226.9L47.2 222.9L48.6 214.9L47.2 207.4L47.7 201.9L49.2 196.4L51.7 189.9L53.1 186.9L55.7 183.8L60.2 179.1L65.1 174.9L70.2 171.4L75.7 168.3L82.2 165.4L88.5 163.4L95.2 161.9L101.2 161.1L111.7 162.9L122.2 166.4L131.0 170.9L139.2 176.8L144.7 182.0L149.2 187.4L153.2 197.7L154.4 202.4L154.8 206.4L153.4 214.4L154.8 221.9L154.2 227.4L152.7 233.1L150.7 238.4L148.8 242.4L147.2 244.4L142.7 249.2L138.0 253.4L133.2 256.9L127.3 260.4L120.8 263.4L115.2 265.3L108.9 266.9L102.7 267.9Z" fill="#ff7200" fill-rule="evenodd"/>
<path d="M102.7 261.9L100.7 262.2L96.5 261.4L84.4 257.9L75.6 253.9L67.2 248.4L61.9 243.9L57.7 239.5L54.2 230.1L52.9 222.9L53.2 220.4L55.2 214.9L55.0 213.4L53.0 207.9L53.2 203.4L55.2 195.9L57.9 189.4L62.4 184.9L67.7 180.4L77.3 174.4L82.8 171.9L88.4 169.9L96.0 167.9L101.2 167.0L110.2 168.9L120.4 172.4L129.1 176.9L136.2 181.9L140.7 185.9L144.4 189.9L147.7 198.8L149.1 205.9L148.7 208.9L146.8 214.4L147.0 215.9L148.9 220.9L148.9 224.9L147.2 232.0L144.0 239.9L139.5 244.4L134.8 248.4L125.4 254.4L114.8 258.9L102.7 261.9Z" fill="#ff9200" fill-rule="evenodd"/>
<path d="M102.7 254.0L100.7 254.3L97.2 253.6L87.7 250.6L80.7 247.1L72.7 241.7L65.4 234.9L62.4 227.4L61.2 221.9L61.4 219.4L62.8 214.9L62.7 213.4L61.3 209.4L61.4 205.4L63.4 198.9L65.7 193.9L73.2 187.1L78.2 183.6L83.2 180.7L91.7 177.1L96.7 175.7L101.2 174.9L108.7 176.6L116.7 179.7L123.7 183.6L130.7 188.7L136.6 194.4L139.5 201.4L140.8 207.4L140.5 209.9L139.2 214.4L140.6 219.9L140.6 223.9L139.0 229.4L136.6 234.9L129.2 241.7L121.2 247.2L111.7 251.6L102.7 254.0Z" fill="#ffb900" fill-rule="evenodd"/>
<path d="M101.7 247.0L100.7 247.1L96.7 246.3L89.7 243.8L82.2 239.8L75.7 235.2L71.3 231.4L68.3 224.9L67.4 220.4L68.4 214.9L67.4 208.9L67.8 205.9L69.3 201.9L71.7 197.4L78.2 192.1L87.2 186.6L94.7 183.5L101.2 182.0L107.7 183.7L113.7 186.1L120.7 190.0L127.7 195.1L130.2 197.4L131.5 199.4L133.5 203.9L134.6 208.4L133.6 214.4L134.5 219.4L134.5 221.9L133.5 225.4L130.6 231.4L125.7 235.7L117.2 241.3L108.7 245.2L101.7 247.0Z" fill="#f8ff00" fill-rule="evenodd"/>
<path d="M101.2 243.9L95.7 242.7L90.7 240.7L83.7 236.7L77.2 232.0L74.7 229.9L73.3 227.4L71.4 222.9L70.9 219.9L71.6 214.9L70.9 209.9L71.0 207.9L72.1 204.4L74.6 199.4L81.2 194.2L88.7 189.6L95.2 186.7L101.2 185.3L106.7 186.6L113.2 189.5L120.7 194.2L127.4 199.4L129.5 203.4L130.9 207.4L131.1 209.9L130.4 214.9L131.1 219.9L130.6 222.9L129.0 226.9L127.3 229.9L125.2 231.7L118.2 236.7L112.2 240.2L106.2 242.7L101.2 243.9Z" fill="#bcff00" fill-rule="evenodd"/>
<path d="M101.2 243.0L95.2 241.5L89.3 238.9L82.1 234.4L75.8 229.4L73.4 224.9L72.2 221.4L72.1 218.9L72.8 214.4L72.1 209.4L72.8 205.9L74.8 201.4L75.7 199.9L78.6 197.4L84.9 192.9L91.0 189.4L96.2 187.3L101.2 186.2L106.2 187.5L111.7 189.8L117.8 193.4L124.0 197.9L126.3 199.9L127.7 202.4L129.4 206.4L129.9 209.4L129.2 214.4L129.9 218.9L129.8 221.4L128.6 224.9L126.2 229.4L119.9 234.4L112.7 238.9L107.2 241.4L101.2 243.0Z" fill="#98ff00" fill-rule="evenodd"/>
<path d="M101.7 242.0L97.7 241.3L92.2 239.3L86.7 236.3L80.2 231.7L76.4 228.4L74.0 223.4L73.3 219.9L73.9 214.9L73.3 210.4L73.4 207.9L74.6 204.4L76.7 200.4L83.0 195.4L90.2 190.9L95.7 188.5L101.2 187.2L106.2 188.4L111.2 190.6L116.8 193.9L123.0 198.4L125.3 200.4L126.2 201.9L128.2 206.4L128.7 209.4L128.1 214.4L128.7 218.9L128.5 221.4L127.4 224.9L125.2 228.9L119.2 233.7L112.5 237.9L107.2 240.4L101.7 242.0Z" fill="#75ff00" fill-rule="evenodd"/>
<path d="M101.7 241.1L100.7 241.2L96.7 240.2L92.2 238.3L86.7 235.2L79.7 230.1L77.3 227.9L76.5 226.4L74.8 222.4L74.4 219.4L74.9 214.9L74.5 208.4L75.3 205.4L77.7 200.9L83.7 196.0L90.7 191.6L96.7 189.0L101.2 188.0L106.7 189.5L111.2 191.6L116.2 194.6L121.7 198.6L124.4 200.9L125.0 201.9L127.0 206.4L127.6 209.9L127.1 214.4L127.5 220.9L126.4 224.4L124.7 227.9L119.7 232.2L112.7 236.8L106.7 239.7L101.7 241.1Z" fill="#57ff00" fill-rule="evenodd"/>
<path d="M102.2 240.5L100.7 240.7L98.2 240.1L92.7 238.1L87.2 235.0L81.4 230.9L77.7 227.6L75.6 222.9L75.0 219.4L75.5 214.9L75.1 208.4L75.9 205.4L77.8 201.4L83.3 196.9L90.2 192.4L95.7 189.9L101.2 188.5L106.2 189.9L110.7 191.8L116.2 195.1L122.0 199.4L124.2 201.4L125.0 202.9L126.6 206.9L127.0 209.9L126.5 214.4L126.9 220.9L126.0 223.9L124.1 227.9L118.6 232.4L112.5 236.4L107.2 239.0L102.2 240.5Z" fill="#39ff00" fill-rule="evenodd"/>
<path d="M102.2 239.9L101.2 240.2L99.2 239.8L93.2 237.8L87.9 234.9L82.2 230.9L78.2 227.4L76.3 222.9L75.6 219.4L76.1 214.9L75.7 208.4L76.8 204.9L78.5 201.4L84.0 196.9L90.3 192.9L95.7 190.4L101.2 189.0L106.2 190.4L110.8 192.4L115.8 195.4L121.2 199.4L123.5 201.4L124.1 202.4L125.9 206.9L126.4 209.9L125.9 214.4L126.4 218.9L126.3 220.9L125.6 223.4L123.7 227.6L118.7 231.8L112.7 235.7L107.3 238.4L102.2 239.9Z" fill="#1bff00" fill-rule="evenodd"/>
<path d="M102.7 239.0L100.7 239.3L94.2 237.3L89.2 234.8L83.7 231.1L78.9 226.9L77.1 222.4L76.6 219.4L77.1 214.9L76.7 208.4L79.1 201.9L84.6 197.4L90.7 193.5L96.2 191.1L101.2 189.9L106.2 191.2L110.7 193.2L115.7 196.2L120.6 199.9L123.1 202.4L124.9 206.9L125.4 209.9L124.9 214.4L125.3 220.4L124.6 223.4L122.8 227.4L117.9 231.4L112.7 234.9L107.7 237.4L102.7 239.0Z" fill="#00ff03" fill-rule="evenodd"/>
<path d="M101.2 238.5L96.2 237.2L90.7 234.8L85.2 231.3L79.9 226.9L78.4 223.4L77.7 220.4L78.0 214.4L77.6 209.9L78.2 206.5L79.8 202.4L83.2 199.4L88.1 195.9L92.7 193.4L97.2 191.6L101.2 190.7L105.7 191.9L110.2 193.8L114.7 196.4L119.4 199.9L122.2 202.4L123.9 206.9L124.4 209.9L124.0 214.4L124.3 220.4L123.6 223.4L122.1 226.9L116.7 231.4L111.7 234.6L106.7 236.9L101.2 238.5Z" fill="#00ff21" fill-rule="evenodd"/>
<path d="M102.2 237.4L100.2 237.5L94.2 235.6L89.7 233.3L84.7 229.9L80.6 226.4L79.1 222.4L78.6 219.4L79.0 214.9L78.7 208.9L80.7 202.7L85.7 198.5L90.7 195.3L96.2 192.8L101.2 191.6L105.7 192.8L110.2 194.7L114.7 197.4L118.7 200.4L121.4 202.9L122.9 206.9L123.4 209.9L123.0 214.4L123.3 220.4L121.4 226.4L117.2 230.0L112.2 233.4L107.2 235.8L102.2 237.4Z" fill="#00ff40" fill-rule="evenodd"/>
<path d="M102.7 236.4L100.7 236.8L95.2 235.1L90.7 233.0L86.2 230.0L81.4 225.9L80.1 222.4L79.6 219.4L80.0 214.4L79.6 209.4L81.3 203.4L85.7 199.5L90.7 196.2L96.2 193.7L101.2 192.4L105.7 193.7L109.7 195.4L113.7 197.7L117.7 200.7L120.7 203.4L121.9 206.9L122.4 209.9L122.0 214.4L122.4 219.9L120.6 225.9L116.6 229.4L112.2 232.4L107.7 234.7L102.7 236.4Z" fill="#00ff60" fill-rule="evenodd"/>
<path d="M101.2 236.0L96.2 234.7L91.2 232.4L86.5 229.4L82.2 225.6L80.5 219.9L80.8 214.4L80.4 210.4L80.8 207.4L82.0 203.9L85.2 200.9L89.2 198.0L93.2 195.8L97.2 194.2L101.2 193.2L105.2 194.3L109.7 196.2L113.7 198.5L117.5 201.4L120.0 203.9L121.3 207.9L121.6 210.4L121.2 214.4L121.5 219.9L120.9 222.9L119.7 225.8L115.5 229.4L110.7 232.5L106.2 234.5L101.2 236.0Z" fill="#00ff80" fill-rule="evenodd"/>
<path d="M102.7 235.0L100.7 235.3L96.2 234.0L91.7 232.0L87.5 229.4L82.7 225.3L81.7 222.4L81.1 219.4L81.5 214.4L81.1 209.4L82.7 203.9L87.2 200.0L91.7 197.2L96.7 195.0L101.2 193.8L109.2 196.6L113.2 198.9L116.5 201.4L119.3 203.9L120.4 206.9L120.9 209.9L120.5 214.4L120.8 219.9L119.2 225.4L115.2 228.9L111.2 231.5L107.2 233.5L102.7 235.0Z" fill="#00ffa8" fill-rule="evenodd"/>
<path d="M102.2 234.4L100.7 234.7L95.2 232.9L91.0 230.9L87.2 228.4L83.1 224.9L82.1 221.4L81.8 218.9L82.1 214.4L81.8 209.4L83.2 204.2L87.2 200.8L91.7 197.9L96.7 195.7L101.2 194.5L109.2 197.3L116.2 201.9L118.9 204.4L120.2 209.9L119.9 214.4L120.2 219.9L118.9 224.9L115.5 227.9L111.2 230.8L106.9 232.9L102.2 234.4Z" fill="#00ffd1" fill-rule="evenodd"/>
<path d="M101.2 234.0L93.7 231.6L86.7 227.3L83.6 224.4L82.4 218.9L82.8 214.4L82.5 209.4L83.9 204.4L87.7 201.2L91.7 198.6L96.2 196.6L101.2 195.2L106.2 196.7L110.2 198.6L114.2 201.1L118.2 204.5L119.5 209.4L119.2 214.4L119.6 218.9L118.4 224.4L116.2 226.5L109.2 231.1L101.2 234.0Z" fill="#00fff8" fill-rule="evenodd"/>
<path d="M101.2 233.4L93.7 230.9L86.7 226.6L84.2 224.4L83.0 218.9L83.4 214.4L83.1 209.4L84.2 204.8L88.2 201.5L92.2 199.0L96.7 197.0L101.2 195.8L106.2 197.4L110.2 199.3L114.2 201.8L117.8 204.9L118.9 209.4L118.6 214.4L119.0 218.9L118.0 223.9L115.7 226.2L109.2 230.5L101.2 233.4Z" fill="#00ecff" fill-rule="evenodd"/>
<path d="M102.2 232.5L100.7 232.8L96.2 231.3L92.2 229.5L88.7 227.4L84.6 223.9L83.6 219.4L83.9 214.4L83.6 209.4L84.7 205.1L88.2 202.2L92.2 199.7L96.7 197.7L101.2 196.4L108.7 199.1L114.7 202.9L117.5 205.4L118.4 209.9L118.1 214.4L118.4 219.4L117.4 223.9L114.6 226.4L110.7 229.0L106.7 231.0L102.2 232.5Z" fill="#00d1ff" fill-rule="evenodd"/>
<path d="M102.2 231.9L100.7 232.2L96.2 230.7L92.2 228.8L88.3 226.4L85.2 223.8L84.2 218.9L84.5 214.4L84.2 209.4L85.2 205.4L88.7 202.5L92.7 200.1L97.2 198.1L101.2 197.0L108.2 199.5L114.5 203.4L116.8 205.4L117.8 209.9L117.5 214.4L117.8 219.9L116.7 223.9L110.2 228.6L102.2 231.9Z" fill="#00b9ff" fill-rule="evenodd"/>
<path d="M101.7 231.4L100.7 231.5L95.2 229.6L88.2 225.6L85.6 223.4L84.7 218.9L85.1 214.4L84.8 209.4L85.7 205.7L89.1 202.9L92.7 200.7L97.2 198.8L101.2 197.6L108.7 200.4L114.7 204.3L116.4 205.9L117.3 210.4L116.9 214.4L117.2 219.4L116.4 223.4L113.2 226.1L109.7 228.2L101.7 231.4Z" fill="#009eff" fill-rule="evenodd"/>
<path d="M101.2 231.0L98.2 230.2L93.2 228.1L89.2 225.7L86.3 223.4L85.3 219.9L85.6 214.4L85.3 210.4L85.9 206.4L87.7 204.6L94.2 200.6L101.2 198.2L107.7 200.5L113.7 204.1L116.1 206.4L116.7 210.4L116.7 219.9L116.1 222.9L114.2 224.7L109.7 227.7L105.2 229.7L101.2 231.0Z" fill="#007fff" fill-rule="evenodd"/>
<path d="M101.7 230.5L100.7 230.6L95.2 228.6L88.7 225.0L86.3 222.9L85.6 218.9L85.9 214.9L85.6 209.4L86.6 205.9L93.2 201.5L97.2 199.8L101.2 198.6L108.2 201.2L114.1 204.9L115.7 206.4L116.4 210.4L116.1 214.4L116.4 219.4L115.7 222.9L113.2 225.0L109.2 227.5L101.7 230.5Z" fill="#005cff" fill-rule="evenodd"/>
<path d="M102.2 230.0L100.7 230.2L97.2 229.1L93.2 227.3L89.7 225.3L86.7 222.9L85.9 218.9L86.2 214.4L85.9 209.9L86.7 206.3L89.7 203.9L93.2 201.9L97.2 200.1L101.2 198.9L108.2 201.6L113.7 204.9L115.4 206.4L116.1 210.4L115.8 214.4L116.1 219.4L115.3 222.9L109.7 226.9L102.2 230.0Z" fill="#0038ff" fill-rule="evenodd"/>
<path d="M101.2 229.9L94.2 227.5L88.3 223.9L86.8 222.4L86.2 218.4L86.5 214.4L86.2 209.9L87.0 206.4L93.2 202.2L101.2 199.3L108.7 202.2L115.0 206.4L115.8 209.9L115.5 214.4L115.8 218.4L115.2 222.4L113.7 223.9L108.2 227.3L101.2 229.9Z" fill="#0014ff" fill-rule="evenodd"/>
<path d="M101.7 229.4L100.7 229.6L95.7 227.8L89.2 224.2L87.1 222.4L86.5 218.4L86.5 209.9L87.5 206.4L93.7 202.3L101.2 199.6L108.2 202.3L113.2 205.3L114.9 206.9L115.5 210.4L115.5 218.9L114.7 222.6L109.2 226.4L101.7 229.4Z" fill="#0600ff" fill-rule="evenodd"/>
<path d="M102.2 228.9L100.7 229.2L98.2 228.4L90.7 224.8L87.5 222.4L86.8 218.9L86.8 210.4L87.4 206.9L93.3 202.9L101.2 200.0L107.7 202.4L112.8 205.4L114.5 206.9L115.2 210.4L115.2 218.9L114.5 222.4L109.2 226.0L102.2 228.9Z" fill="#1e00ff" fill-rule="evenodd"/>
<path d="M101.2 228.9L93.7 226.1L87.9 222.4L87.1 218.9L87.1 210.9L87.7 207.2L89.2 205.8L94.7 202.6L101.2 200.3L108.2 203.0L113.2 206.1L114.4 207.4L114.9 210.9L114.9 218.9L114.1 222.4L108.7 225.9L101.2 228.9Z" fill="#3600ff" fill-rule="evenodd"/>
<path d="M101.7 228.4L100.7 228.5L96.2 226.9L90.2 223.7L88.0 221.9L87.4 218.4L87.4 210.4L88.2 207.0L94.2 203.2L101.2 200.6L108.2 203.4L113.2 206.5L114.0 207.4L114.6 210.9L114.6 218.9L114.0 221.9L108.7 225.6L101.7 228.4Z" fill="#4e00ff" fill-rule="evenodd"/>
<path d="M102.2 227.9L100.7 228.2L98.2 227.3L94.2 225.7L90.7 223.7L88.3 221.9L87.7 218.4L87.7 210.4L88.3 207.4L93.7 203.8L101.2 201.0L107.7 203.5L112.7 206.5L113.7 207.4L114.3 210.9L114.3 218.4L113.7 221.9L108.7 225.2L102.2 227.9Z" fill="#6800ff" fill-rule="evenodd"/>
<path d="M101.2 227.9L94.7 225.6L88.8 221.9L88.0 218.9L87.9 211.4L88.4 207.9L89.7 206.6L94.7 203.6L101.2 201.3L108.2 204.1L113.2 207.3L114.1 211.4L114.0 218.9L113.2 221.9L108.2 225.1L101.2 227.9Z" fill="#8a00ff" fill-rule="evenodd"/>
<path d="M101.7 227.5L100.7 227.6L96.2 225.9L89.8 222.4L88.7 221.4L88.2 217.9L88.2 210.4L89.0 207.4L94.7 203.9L101.2 201.6L108.2 204.4L113.0 207.4L113.8 211.4L113.8 218.4L113.2 221.5L108.2 224.8L101.7 227.5Z" fill="#ab00ff" fill-rule="evenodd"/>
<path d="M102.2 227.0L100.7 227.3L98.7 226.6L94.2 224.7L90.7 222.7L89.0 221.4L88.4 217.9L88.4 210.9L89.2 207.6L94.2 204.5L101.2 201.9L107.7 204.4L112.6 207.4L113.2 208.4L113.6 211.4L113.6 218.4L113.0 221.4L108.7 224.3L102.2 227.0Z" fill="#cb00ff" fill-rule="evenodd"/>
<path d="M101.2 227.0L94.2 224.4L89.3 221.4L88.7 218.4L88.6 211.9L89.1 208.4L89.7 207.5L94.7 204.5L101.2 202.2L107.7 204.7L112.2 207.4L112.9 208.4L113.4 211.9L113.3 218.4L112.7 221.4L108.2 224.2L101.2 227.0Z" fill="#e700ff" fill-rule="evenodd"/>
<path d="M101.7 226.5L100.7 226.7L96.2 225.0L90.2 221.8L89.4 220.9L88.8 217.4L88.9 210.9L89.6 207.9L94.2 205.1L101.2 202.5L107.7 205.0L112.2 207.7L112.8 208.9L113.2 211.9L113.1 218.4L112.3 221.4L107.7 224.2L101.7 226.5Z" fill="#ff00f9" fill-rule="evenodd"/>
<path d="M101.2 226.4L94.7 224.1L90.0 221.4L89.4 219.9L89.0 216.9L89.1 210.9L89.9 207.9L94.7 205.1L101.2 202.8L107.7 205.3L112.2 208.0L112.9 210.9L113.0 216.9L112.6 219.9L112.0 221.4L107.7 223.9L101.2 226.4Z" fill="#ff00da" fill-rule="evenodd"/>
<path d="M101.7 225.9L100.7 226.1L96.2 224.4L90.7 221.6L89.9 220.9L89.3 217.4L89.3 211.4L89.8 208.4L94.2 205.7L101.2 203.1L107.7 205.6L111.7 207.9L112.3 208.9L112.7 211.9L112.7 217.9L112.1 220.9L108.2 223.4L101.7 225.9Z" fill="#ff00bd" fill-rule="evenodd"/>
<path d="M102.2 225.5L100.7 225.8L94.7 223.5L91.2 221.6L90.2 220.9L89.5 217.4L89.5 211.4L90.1 208.4L94.7 205.7L101.2 203.4L107.7 205.9L111.7 208.2L112.5 211.9L112.5 217.9L111.8 220.9L108.2 223.1L102.2 225.5Z" fill="#ff00a1" fill-rule="evenodd"/>
<path d="M101.2 225.6L94.7 223.2L90.5 220.9L89.9 218.9L89.7 216.4L89.7 211.4L90.4 208.4L94.7 206.0L101.2 203.6L107.7 206.2L111.6 208.4L112.3 211.4L112.3 216.4L112.1 218.9L111.5 220.9L107.7 223.0L101.2 225.6Z" fill="#ff007f" fill-rule="evenodd"/>
<path d="M101.7 225.1L100.7 225.2L96.2 223.5L90.9 220.9L90.3 219.9L89.9 216.9L89.9 211.4L90.7 208.5L94.7 206.3L101.2 203.9L107.6 206.4L111.2 208.4L111.8 209.9L112.1 212.4L112.0 217.9L111.2 220.8L107.7 222.8L101.7 225.1Z" fill="#ff005d" fill-rule="evenodd"/>
<path d="M101.2 225.0L94.2 222.4L90.7 220.4L90.1 217.4L90.1 212.9L90.6 209.4L91.2 208.4L95.2 206.3L101.2 204.2L107.0 206.4L110.8 208.4L111.3 208.9L111.7 210.5L111.9 212.9L111.8 217.9L111.2 220.5L107.7 222.5L101.2 225.0Z" fill="#ff0044" fill-rule="evenodd"/>
<path d="M102.2 223.9L100.7 224.3L92.2 220.7L91.3 219.9L90.7 216.9L90.8 211.9L91.6 208.9L95.2 207.0L101.2 204.9L107.2 207.2L110.4 208.9L111.3 212.4L111.3 216.9L110.7 219.9L107.7 221.8L102.2 223.9Z" fill="#ff002b" fill-rule="evenodd"/>
</g></g>
<circle cx="100.60" cy="214.30" r="61.60" fill="none" stroke="#6a6a6a" stroke-width="0.60"/>
<clipPath id="cpd"><circle cx="240.75" cy="213.70" r="61.90"/></clipPath>
<g clip-path="url(#cpd)"><g filter="url(#pfblur)">
<circle cx="240.75" cy="213.70" r="65.90" fill="#ff6300"/>
<path d="M243.8 266.8L240.8 267.0L235.8 266.5L230.3 265.5L223.8 263.7L214.8 259.7L206.3 254.1L199.0 247.3L193.5 240.3L191.1 235.3L189.1 229.8L188.1 225.8L187.4 221.3L188.2 212.8L187.4 204.3L188.5 198.3L190.7 191.8L193.1 186.3L197.5 180.3L202.3 175.3L206.8 171.5L211.8 168.0L216.3 165.5L221.8 163.1L228.3 161.0L235.3 159.5L240.8 159.0L249.8 160.0L260.4 163.0L268.9 167.0L277.4 172.9L283.5 178.8L289.0 185.8L293.2 195.8L294.6 201.3L295.0 205.3L294.2 212.8L295.0 220.8L294.1 226.8L292.6 231.8L290.2 237.8L288.6 240.8L285.6 244.8L281.9 249.0L277.4 253.1L271.9 257.1L266.9 260.1L261.4 262.6L255.8 264.5L249.3 266.1L243.8 266.8Z" fill="#ff7200" fill-rule="evenodd"/>
<path d="M242.8 263.3L239.3 263.3L233.5 262.3L223.3 259.3L214.8 255.3L207.3 250.3L200.8 244.5L196.0 238.8L192.3 229.6L191.3 225.8L190.7 221.3L190.9 218.8L192.1 213.3L190.8 206.3L191.3 200.3L194.3 190.8L195.9 187.3L197.8 184.8L202.6 179.8L207.8 175.3L217.5 169.3L221.8 167.3L229.1 164.8L235.4 163.3L241.3 162.5L249.4 163.8L259.4 166.8L266.9 170.3L275.9 176.3L281.9 181.8L286.4 187.0L289.9 195.8L291.4 201.7L291.7 204.8L291.4 207.8L290.3 212.8L291.6 219.8L291.4 224.3L288.9 233.1L286.4 238.8L285.4 240.3L280.9 245.2L276.4 249.3L270.9 253.3L266.6 255.8L260.4 258.8L254.7 260.8L248.9 262.3L242.8 263.3Z" fill="#ff9200" fill-rule="evenodd"/>
<path d="M241.8 258.3L239.3 258.1L232.8 256.5L223.8 253.4L215.8 249.5L207.8 244.1L199.9 236.8L197.1 228.8L195.6 221.3L196.0 218.3L197.6 214.3L197.8 212.8L195.8 206.8L195.7 203.3L197.6 195.3L200.3 188.8L208.8 181.1L218.3 175.1L229.3 170.5L241.3 167.6L251.3 170.0L259.9 173.1L268.4 177.5L275.4 182.5L282.5 189.3L285.6 198.3L286.8 204.8L286.5 207.3L284.6 212.8L284.8 214.3L286.6 219.3L286.7 222.8L285.0 229.8L282.4 237.0L273.9 244.7L264.9 250.5L254.3 255.0L241.8 258.3Z" fill="#ffb900" fill-rule="evenodd"/>
<path d="M242.3 250.9L240.8 251.1L236.8 250.1L228.3 247.0L221.8 243.6L213.8 238.1L207.8 233.0L207.0 231.8L204.1 224.3L203.4 220.3L203.5 217.8L204.9 213.3L203.4 207.8L203.5 203.8L205.1 198.8L207.6 193.3L216.3 186.0L224.3 181.0L233.3 177.0L241.3 174.9L247.8 176.6L255.3 179.6L262.4 183.5L269.9 188.9L275.2 193.8L278.2 201.3L279.1 206.3L277.6 212.8L279.1 218.8L279.1 220.8L277.7 226.3L275.2 232.3L267.9 238.6L258.9 244.6L250.3 248.6L242.3 250.9Z" fill="#f8ff00" fill-rule="evenodd"/>
<path d="M241.8 245.3L237.3 244.6L230.8 242.0L223.3 237.6L213.8 231.0L211.9 229.3L209.7 225.3L208.2 221.8L207.7 218.8L208.7 213.3L207.7 207.8L207.9 205.3L209.1 201.8L212.2 196.3L220.8 190.1L229.8 184.6L235.3 182.1L241.3 180.5L246.8 182.0L253.3 185.0L262.4 190.6L269.9 196.0L273.5 202.3L274.5 205.3L274.7 207.3L273.7 212.8L274.6 217.8L274.6 220.3L273.2 224.3L270.1 229.8L262.9 235.1L253.3 241.0L247.8 243.6L241.8 245.3Z" fill="#bcff00" fill-rule="evenodd"/>
<path d="M241.3 243.9L235.8 242.5L229.8 239.8L220.8 234.2L213.5 228.8L210.8 224.1L209.4 220.3L209.3 217.8L210.1 212.8L209.2 207.3L209.7 204.8L210.9 201.8L213.5 197.3L214.6 196.3L222.8 190.5L230.3 185.9L235.8 183.5L241.3 182.1L246.8 183.6L252.3 186.1L260.1 190.8L267.8 196.3L268.9 197.3L271.5 201.8L272.7 204.8L273.2 207.3L272.3 212.8L273.1 217.8L273.0 220.3L271.7 223.8L268.9 228.8L262.2 233.8L252.8 239.7L246.8 242.4L241.3 243.9Z" fill="#98ff00" fill-rule="evenodd"/>
<path d="M243.3 241.9L240.3 242.2L233.3 240.0L227.3 236.8L218.8 231.1L215.2 228.3L214.1 226.8L211.5 221.8L210.8 218.3L211.5 213.3L210.8 208.3L210.9 206.3L212.3 202.3L215.1 197.8L222.3 192.4L230.3 187.5L235.8 185.0L241.3 183.7L246.3 184.9L251.8 187.3L258.4 191.3L265.9 196.6L267.4 197.8L269.5 201.3L271.1 204.8L271.6 207.3L270.9 212.8L271.6 217.3L271.5 219.8L270.2 223.3L267.4 228.1L261.4 232.7L253.3 237.8L248.3 240.3L243.3 241.9Z" fill="#75ff00" fill-rule="evenodd"/>
<path d="M243.3 240.5L239.3 240.6L233.3 238.6L227.8 235.7L220.3 230.6L215.5 226.3L213.0 221.8L212.2 217.8L212.8 213.3L212.2 208.3L212.5 205.8L214.0 202.3L216.2 198.8L222.3 194.0L230.3 188.9L235.3 186.5L241.3 185.1L246.8 186.5L251.3 188.5L257.9 192.5L264.9 197.5L266.3 198.8L268.7 202.8L269.8 205.3L270.2 207.8L269.7 212.8L270.1 219.3L268.7 223.3L266.2 227.3L261.4 231.1L252.8 236.7L247.8 239.2L243.3 240.5Z" fill="#57ff00" fill-rule="evenodd"/>
<path d="M241.3 240.3L236.6 239.3L231.3 237.1L225.3 233.5L218.3 228.4L216.6 226.8L214.2 222.8L213.2 220.3L212.8 217.8L213.3 213.3L212.8 208.8L213.0 206.3L214.2 203.3L216.8 198.9L223.8 193.6L230.8 189.2L236.3 186.8L241.3 185.7L246.1 186.8L251.3 189.1L259.4 194.1L265.5 198.8L268.0 202.8L269.4 206.3L269.6 208.8L269.1 213.3L269.6 217.8L269.2 220.3L267.9 223.3L265.8 226.8L263.9 228.6L257.9 232.9L251.3 236.9L245.8 239.3L241.3 240.3Z" fill="#39ff00" fill-rule="evenodd"/>
<path d="M243.3 239.4L240.8 239.7L234.8 238.1L229.8 235.7L223.1 231.3L217.3 226.8L214.5 221.8L213.5 218.3L214.0 213.3L213.6 206.8L214.9 203.3L217.3 199.2L223.7 194.3L230.8 189.8L235.8 187.5L240.9 186.3L244.8 187.0L249.8 188.9L255.3 192.0L262.2 196.8L264.9 199.0L266.1 200.8L268.2 204.8L268.9 207.8L268.4 212.8L268.9 216.8L268.7 219.3L267.7 222.3L265.1 226.8L259.3 231.3L252.3 235.8L247.3 238.2L243.3 239.4Z" fill="#1bff00" fill-rule="evenodd"/>
<path d="M243.3 238.4L240.8 238.7L234.8 237.1L229.8 234.7L223.8 230.8L218.2 226.3L215.4 221.3L214.6 217.8L215.1 213.3L214.8 206.8L215.8 203.8L218.1 199.8L223.6 195.3L230.8 190.7L236.3 188.3L241.3 187.2L245.8 188.3L250.3 190.1L255.8 193.3L261.4 197.3L264.3 199.8L265.5 201.8L267.2 205.3L267.8 208.3L267.3 212.8L267.8 217.3L267.6 219.3L266.5 222.3L264.2 226.3L259.3 230.3L252.8 234.6L247.8 237.0L243.3 238.4Z" fill="#00ff03" fill-rule="evenodd"/>
<path d="M243.8 237.3L240.8 237.8L235.8 236.6L230.8 234.3L225.3 230.9L219.0 225.8L216.6 221.3L215.8 217.8L216.2 213.3L215.8 208.8L215.9 206.8L217.0 203.8L218.9 200.3L224.4 195.8L230.8 191.7L236.3 189.3L241.3 188.2L245.8 189.2L249.8 190.8L254.8 193.6L260.0 197.3L263.8 200.8L265.8 204.8L266.6 208.3L266.2 212.8L266.5 218.8L265.6 221.8L263.4 225.8L258.9 229.6L253.3 233.3L248.3 235.9L243.8 237.3Z" fill="#00ff21" fill-rule="evenodd"/>
<path d="M241.3 236.8L237.3 236.0L232.8 234.4L228.2 231.8L223.3 228.3L219.5 224.8L217.6 220.8L216.9 217.3L217.3 213.3L217.0 207.3L217.9 204.3L219.8 200.7L225.1 196.3L230.8 192.6L236.3 190.3L241.3 189.2L246.3 190.4L251.8 192.8L257.9 196.7L262.6 200.8L264.5 204.3L265.4 207.3L265.1 213.3L265.5 217.3L265.0 220.3L263.2 224.3L262.4 225.5L259.4 228.1L254.3 231.7L249.8 234.2L245.8 235.8L241.3 236.8Z" fill="#00ff40" fill-rule="evenodd"/>
<path d="M241.3 235.8L236.3 234.8L231.3 232.6L225.3 228.8L220.7 224.8L218.9 221.3L218.2 218.8L218.3 212.8L218.0 208.8L218.4 206.3L220.4 201.8L223.9 198.3L228.1 195.3L232.8 192.6L237.3 190.9L241.3 190.2L245.3 191.0L249.9 192.8L254.3 195.3L258.5 198.3L261.4 200.8L262.3 202.3L263.9 205.8L264.4 208.8L264.0 212.8L264.3 218.3L263.4 221.6L261.7 224.8L257.1 228.8L251.7 232.3L246.3 234.7L241.3 235.8Z" fill="#00ff60" fill-rule="evenodd"/>
<path d="M241.8 234.8L238.3 234.3L233.9 232.8L229.8 230.7L225.6 227.8L221.7 224.3L219.9 220.3L219.3 217.3L219.6 213.3L219.4 207.8L220.0 205.3L221.6 201.8L226.2 197.8L231.3 194.4L236.3 192.3L241.3 191.1L245.3 192.0L249.3 193.6L253.3 195.8L257.5 198.8L260.9 202.0L262.5 205.8L263.1 208.8L262.8 212.8L263.0 218.3L262.3 220.8L260.7 224.3L256.4 228.1L251.3 231.4L246.8 233.5L241.8 234.8Z" fill="#00ff80" fill-rule="evenodd"/>
<path d="M241.8 233.8L238.3 233.3L234.1 231.8L229.8 229.5L226.0 226.8L222.5 223.3L221.1 219.8L220.6 216.8L220.9 213.3L220.7 207.8L222.7 202.3L227.2 198.3L231.8 195.3L236.3 193.3L241.3 192.1L245.3 193.1L248.8 194.4L252.8 196.7L256.5 199.3L259.7 202.3L261.2 205.8L261.8 208.8L261.5 212.8L261.7 218.3L259.7 223.8L255.3 227.6L250.8 230.5L246.3 232.6L241.8 233.8Z" fill="#00ffa8" fill-rule="evenodd"/>
<path d="M241.3 232.9L237.8 232.1L233.8 230.6L230.3 228.6L226.8 226.1L223.5 222.8L222.3 219.3L222.0 216.8L222.1 207.8L223.7 202.8L227.8 199.1L232.3 196.2L236.8 194.2L241.3 193.1L246.3 194.5L250.3 196.3L254.8 199.3L258.7 202.8L260.3 207.8L260.4 216.8L260.1 219.3L258.9 222.8L255.9 225.8L252.3 228.5L248.8 230.4L244.8 232.0L241.3 232.9Z" fill="#00ffd1" fill-rule="evenodd"/>
<path d="M241.8 231.8L239.3 231.5L234.8 230.0L231.3 228.1L228.1 225.8L224.6 222.3L223.6 219.3L223.3 216.8L223.4 207.8L224.8 203.3L228.7 199.8L232.8 197.0L236.8 195.2L241.3 194.1L248.1 196.3L254.3 200.3L257.9 203.7L259.1 208.8L259.0 218.3L257.5 222.8L253.8 226.1L249.8 228.8L245.8 230.7L241.8 231.8Z" fill="#00fff8" fill-rule="evenodd"/>
<path d="M241.3 230.9L237.3 229.9L233.3 228.1L229.3 225.5L225.8 222.3L224.6 218.3L224.9 212.8L224.5 208.8L225.4 204.3L228.8 200.9L234.8 197.2L241.3 195.1L247.8 197.3L254.0 201.3L256.9 204.0L257.9 208.8L257.5 212.8L257.8 218.3L256.6 222.3L253.3 225.3L249.3 227.9L245.3 229.8L241.3 230.9Z" fill="#00ecff" fill-rule="evenodd"/>
<path d="M241.3 229.8L235.8 228.2L229.8 224.6L226.4 221.3L225.7 217.3L226.1 212.8L225.7 208.3L226.6 204.3L230.3 201.0L233.3 199.0L237.8 197.0L241.3 196.1L245.8 197.5L248.8 198.9L253.3 202.0L255.8 204.3L256.7 207.8L256.3 212.8L256.7 217.3L256.0 221.3L253.8 223.5L247.8 227.6L244.3 229.1L241.3 229.8Z" fill="#00d1ff" fill-rule="evenodd"/>
<path d="M241.3 229.4L235.3 227.4L229.8 224.0L226.9 221.3L226.2 217.3L226.7 212.8L226.3 207.8L226.9 204.8L229.8 202.0L233.3 199.6L237.3 197.8L241.3 196.6L245.3 197.9L248.8 199.5L252.3 201.9L255.5 204.8L256.1 207.8L255.7 212.8L256.2 217.3L255.5 221.3L252.8 223.8L247.3 227.3L241.3 229.4Z" fill="#00b9ff" fill-rule="evenodd"/>
<path d="M241.8 228.8L240.8 228.9L236.8 227.6L231.0 224.3L227.3 221.1L226.7 217.8L227.2 212.8L226.7 207.8L227.4 204.8L230.3 202.2L233.8 199.8L237.3 198.2L241.3 197.1L247.3 199.2L252.2 202.3L255.0 204.8L255.7 208.3L255.2 212.8L255.7 218.3L254.9 221.3L252.1 223.8L248.8 226.0L245.3 227.7L241.8 228.8Z" fill="#009eff" fill-rule="evenodd"/>
<path d="M241.8 228.3L240.3 228.3L237.3 227.3L231.8 224.3L227.7 220.8L227.2 217.8L227.8 212.8L227.2 207.8L227.8 205.1L230.9 202.3L234.0 200.3L238.3 198.3L241.3 197.5L246.5 199.3L251.5 202.3L254.7 205.3L255.2 208.3L254.6 212.8L255.2 217.8L254.7 220.8L251.4 223.8L248.3 225.8L241.8 228.3Z" fill="#007fff" fill-rule="evenodd"/>
<path d="M241.3 227.9L237.8 226.9L234.3 225.2L230.9 222.8L228.3 220.3L228.0 217.3L228.6 212.8L228.0 208.3L228.3 205.7L231.4 202.8L236.3 199.8L241.3 198.1L246.3 199.9L251.0 202.8L253.8 205.4L254.4 208.3L253.8 212.8L254.4 217.3L254.1 220.3L251.5 222.8L248.3 225.0L244.8 226.7L241.3 227.9Z" fill="#005cff" fill-rule="evenodd"/>
<path d="M242.3 226.9L241.3 227.2L239.3 226.7L234.1 224.3L229.4 220.3L228.9 218.3L229.5 213.3L228.9 208.3L229.3 205.8L231.9 203.3L234.8 201.3L237.9 199.8L241.3 198.8L245.8 200.4L249.9 202.8L253.1 205.8L253.5 207.8L252.9 212.8L253.5 217.3L253.3 219.8L251.6 221.8L248.3 224.3L242.3 226.9Z" fill="#0038ff" fill-rule="evenodd"/>
<path d="M241.8 226.3L238.8 225.8L234.0 223.3L230.1 219.8L229.8 217.8L230.4 213.3L229.8 208.8L230.0 206.3L232.5 203.8L235.3 201.8L238.6 200.3L241.3 199.6L245.0 200.8L249.2 203.3L252.4 206.3L252.6 207.8L252.0 212.8L252.6 217.3L252.3 219.7L250.4 221.8L247.7 223.8L241.8 226.3Z" fill="#0014ff" fill-rule="evenodd"/>
<path d="M241.8 225.3L240.8 225.4L238.8 224.8L235.0 222.8L231.6 219.8L230.9 218.8L230.8 217.8L231.5 213.3L230.8 208.8L231.1 206.8L232.9 204.8L235.6 202.8L238.3 201.4L241.3 200.5L245.0 201.8L248.3 203.8L251.3 206.8L251.6 208.3L250.9 212.8L251.6 217.3L251.3 219.1L247.3 222.9L241.8 225.3Z" fill="#0600ff" fill-rule="evenodd"/>
<path d="M241.3 224.4L238.8 223.7L236.1 222.3L233.6 220.3L232.0 218.3L232.6 212.8L231.9 208.3L232.6 206.8L235.3 204.2L238.3 202.5L241.3 201.6L244.3 202.6L247.2 204.3L249.8 206.8L250.5 208.3L249.8 212.8L250.3 218.5L248.8 220.3L246.3 222.3L241.3 224.4Z" fill="#1e00ff" fill-rule="evenodd"/>
<path d="M242.8 223.5L239.8 223.6L237.3 222.4L234.7 220.3L232.9 217.8L233.6 213.3L233.0 209.3L233.1 207.8L236.3 204.2L239.3 202.6L241.3 202.1L245.8 204.1L248.2 206.3L249.5 208.3L248.7 212.8L249.4 217.8L248.1 219.8L246.3 221.5L242.8 223.5Z" fill="#3600ff" fill-rule="evenodd"/>
<path d="M242.3 223.3L240.0 223.3L237.0 221.8L235.1 219.8L233.8 217.3L234.7 213.3L233.8 208.8L234.4 207.3L236.8 204.3L239.7 202.8L241.3 202.5L243.8 203.3L246.1 204.8L247.7 206.8L248.6 208.8L247.7 212.8L248.5 216.8L248.2 218.3L246.0 221.3L242.3 223.3Z" fill="#4e00ff" fill-rule="evenodd"/>
<path d="M241.8 222.9L239.8 222.7L237.3 221.3L235.7 219.3L234.8 216.8L235.7 213.3L234.8 209.3L235.4 207.3L236.3 205.7L237.8 204.3L239.8 203.3L241.3 203.0L243.8 203.8L245.3 204.9L246.8 206.8L247.6 209.3L246.7 212.8L247.6 216.8L247.0 218.8L244.8 221.5L241.8 222.9Z" fill="#6800ff" fill-rule="evenodd"/>
<path d="M241.8 222.0L239.3 221.6L237.8 220.7L236.4 218.8L235.9 216.8L236.6 212.8L235.9 210.3L236.2 207.8L237.0 206.3L238.3 204.9L240.8 203.9L243.3 204.5L244.8 205.6L246.0 207.3L246.6 209.3L245.7 212.8L246.6 216.3L246.2 218.3L244.3 220.8L241.8 222.0Z" fill="#8a00ff" fill-rule="evenodd"/>
<path d="M241.8 221.4L240.2 221.3L238.3 220.3L237.1 218.8L236.5 216.8L237.4 212.8L236.5 210.3L236.8 207.8L238.3 205.7L240.8 204.6L242.5 204.8L244.2 205.8L245.3 207.3L245.9 209.3L245.0 212.8L245.9 215.8L245.7 217.8L244.3 220.1L241.8 221.4Z" fill="#ab00ff" fill-rule="evenodd"/>
<path d="M242.3 220.4L240.8 220.6L238.9 219.8L237.8 218.6L237.2 216.8L237.3 215.3L238.1 212.8L237.2 210.3L237.4 208.3L238.8 206.3L240.8 205.4L242.3 205.6L243.8 206.5L244.8 207.8L245.2 209.3L245.1 210.8L244.3 212.8L245.1 215.3L245.1 217.3L244.0 219.3L242.3 220.4Z" fill="#cb00ff" fill-rule="evenodd"/>
<path d="M241.8 219.4L240.3 219.4L239.3 218.8L238.3 217.7L237.9 216.3L238.7 212.8L238.0 210.8L238.2 208.8L239.3 207.2L240.8 206.5L242.3 206.8L243.3 207.4L244.5 209.8L243.7 212.8L244.5 215.3L244.4 216.8L243.3 218.6L241.8 219.4Z" fill="#e700ff" fill-rule="evenodd"/>
<path d="M241.8 217.9L239.8 217.6L238.8 215.8L239.4 212.8L238.8 211.3L238.8 209.8L239.4 208.8L240.8 208.0L241.8 208.1L242.8 208.7L243.6 210.3L243.0 212.8L243.6 215.8L242.9 217.3L241.8 217.9Z" fill="#ff00f9" fill-rule="evenodd"/>
<path d="M241.8 216.0L240.3 215.9L239.7 214.8L240.1 212.8L239.7 211.3L240.1 210.3L240.8 209.8L241.8 210.0L242.7 211.3L242.3 212.8L242.7 214.8L241.8 216.0Z" fill="#ff00da" fill-rule="evenodd"/>
<path d="M241.3 214.1L240.8 213.9L240.7 213.3L240.7 212.3L241.3 211.9L241.6 213.3L241.3 214.1Z" fill="#ff00bd" fill-rule="evenodd"/>
</g></g>
<circle cx="240.75" cy="213.70" r="61.60" fill="none" stroke="#6a6a6a" stroke-width="0.60"/>
<text transform="translate(37.60 19.50) scale(1 1.15)" font-family='"Liberation Sans", sans-serif' font-size="17" fill="#111">a</text>
<text x="45.70" y="18.60" font-family='"Liberation Sans", sans-serif' font-size="17" fill="#111">)</text>
<text transform="translate(180.10 19.20) scale(1 1.15)" font-family='"Liberation Sans", sans-serif' font-size="17" fill="#111">b</text>
<text x="189.70" y="18.30" font-family='"Liberation Sans", sans-serif' font-size="17" fill="#111">)</text>
<text transform="translate(41.00 159.10) scale(1 1.15)" font-family='"Liberation Sans", sans-serif' font-size="17" fill="#111">c</text>
<text x="48.70" y="158.30" font-family='"Liberation Sans", sans-serif' font-size="17" fill="#111">)</text>
<text transform="translate(182.50 159.10) scale(1 1.15)" font-family='"Liberation Sans", sans-serif' font-size="17" fill="#111">d</text>
<text x="192.90" y="158.30" font-family='"Liberation Sans", sans-serif' font-size="17" fill="#111">)</text>
<line x1="357.0" y1="169.07" x2="648.20" y2="169.07" stroke="#1a1a1a" stroke-width="1.6" stroke-dasharray="8.2 7.9"/>
<polyline fill="none" stroke="#cc2ff0" stroke-width="1.30" points="385.02,142.20 427.81,142.20 427.81,83.50 445.74,83.50 445.74,61.80 459.65,61.80 459.65,43.10 471.50,43.10 471.50,82.40 482.05,82.40 482.05,120.00 491.70,120.00 491.70,138.00 500.67,138.00 500.67,156.20 509.13,156.20 509.13,173.00 517.16,173.00 517.16,181.50 524.85,181.50 524.85,182.50 532.25,182.50 532.25,183.90 539.42,183.90 539.42,188.00 546.39,188.00 546.39,190.50 553.18,190.50 553.18,194.30 559.83,194.30 559.83,197.00 566.35,197.00 566.35,201.50 572.76,201.50 572.76,208.00 579.09,208.00 579.09,214.00 585.33,214.00 585.33,216.30 591.52,216.30 591.52,219.50 597.65,219.50 597.65,219.60 603.74,219.60 603.74,219.60 609.81,219.60 609.81,219.60 615.85,219.60 615.85,217.70 621.88,217.70 621.88,217.80"/>
<rect x="382.52" y="139.70" width="5.00" height="5.00" fill="#cc2ff0"/>
<rect x="425.31" y="139.70" width="5.00" height="5.00" fill="#cc2ff0"/>
<rect x="425.31" y="81.00" width="5.00" height="5.00" fill="#cc2ff0"/>
<rect x="443.24" y="81.00" width="5.00" height="5.00" fill="#cc2ff0"/>
<rect x="443.24" y="59.30" width="5.00" height="5.00" fill="#cc2ff0"/>
<rect x="457.15" y="59.30" width="5.00" height="5.00" fill="#cc2ff0"/>
<rect x="457.15" y="40.60" width="5.00" height="5.00" fill="#cc2ff0"/>
<rect x="469.00" y="40.60" width="5.00" height="5.00" fill="#cc2ff0"/>
<rect x="469.00" y="79.90" width="5.00" height="5.00" fill="#cc2ff0"/>
<rect x="479.55" y="79.90" width="5.00" height="5.00" fill="#cc2ff0"/>
<rect x="479.55" y="117.50" width="5.00" height="5.00" fill="#cc2ff0"/>
<rect x="489.20" y="117.50" width="5.00" height="5.00" fill="#cc2ff0"/>
<rect x="489.20" y="135.50" width="5.00" height="5.00" fill="#cc2ff0"/>
<rect x="498.17" y="135.50" width="5.00" height="5.00" fill="#cc2ff0"/>
<rect x="498.17" y="153.70" width="5.00" height="5.00" fill="#cc2ff0"/>
<rect x="506.63" y="153.70" width="5.00" height="5.00" fill="#cc2ff0"/>
<rect x="506.63" y="170.50" width="5.00" height="5.00" fill="#cc2ff0"/>
<rect x="514.66" y="170.50" width="5.00" height="5.00" fill="#cc2ff0"/>
<rect x="514.66" y="179.00" width="5.00" height="5.00" fill="#cc2ff0"/>
<rect x="522.35" y="179.00" width="5.00" height="5.00" fill="#cc2ff0"/>
<rect x="522.35" y="180.00" width="5.00" height="5.00" fill="#cc2ff0"/>
<rect x="529.75" y="180.00" width="5.00" height="5.00" fill="#cc2ff0"/>
<rect x="529.75" y="181.40" width="5.00" height="5.00" fill="#cc2ff0"/>
<rect x="536.92" y="181.40" width="5.00" height="5.00" fill="#cc2ff0"/>
<rect x="536.92" y="185.50" width="5.00" height="5.00" fill="#cc2ff0"/>
<rect x="543.89" y="185.50" width="5.00" height="5.00" fill="#cc2ff0"/>
<rect x="543.89" y="188.00" width="5.00" height="5.00" fill="#cc2ff0"/>
<rect x="550.68" y="188.00" width="5.00" height="5.00" fill="#cc2ff0"/>
<rect x="550.68" y="191.80" width="5.00" height="5.00" fill="#cc2ff0"/>
<rect x="557.33" y="191.80" width="5.00" height="5.00" fill="#cc2ff0"/>
<rect x="557.33" y="194.50" width="5.00" height="5.00" fill="#cc2ff0"/>
<rect x="563.85" y="194.50" width="5.00" height="5.00" fill="#cc2ff0"/>
<rect x="563.85" y="199.00" width="5.00" height="5.00" fill="#cc2ff0"/>
<rect x="570.26" y="199.00" width="5.00" height="5.00" fill="#cc2ff0"/>
<rect x="570.26" y="205.50" width="5.00" height="5.00" fill="#cc2ff0"/>
<rect x="576.59" y="205.50" width="5.00" height="5.00" fill="#cc2ff0"/>
<rect x="576.59" y="211.50" width="5.00" height="5.00" fill="#cc2ff0"/>
<rect x="582.83" y="211.50" width="5.00" height="5.00" fill="#cc2ff0"/>
<rect x="582.83" y="213.80" width="5.00" height="5.00" fill="#cc2ff0"/>
<rect x="589.02" y="213.80" width="5.00" height="5.00" fill="#cc2ff0"/>
<rect x="589.02" y="217.00" width="5.00" height="5.00" fill="#cc2ff0"/>
<rect x="595.15" y="217.00" width="5.00" height="5.00" fill="#cc2ff0"/>
<rect x="595.15" y="217.10" width="5.00" height="5.00" fill="#cc2ff0"/>
<rect x="601.24" y="217.10" width="5.00" height="5.00" fill="#cc2ff0"/>
<rect x="601.24" y="217.10" width="5.00" height="5.00" fill="#cc2ff0"/>
<rect x="607.31" y="217.10" width="5.00" height="5.00" fill="#cc2ff0"/>
<rect x="607.31" y="217.10" width="5.00" height="5.00" fill="#cc2ff0"/>
<rect x="613.35" y="217.10" width="5.00" height="5.00" fill="#cc2ff0"/>
<rect x="613.35" y="215.20" width="5.00" height="5.00" fill="#cc2ff0"/>
<rect x="619.38" y="215.20" width="5.00" height="5.00" fill="#cc2ff0"/>
<rect x="619.38" y="215.30" width="5.00" height="5.00" fill="#cc2ff0"/>
<polyline fill="none" stroke="#1a64a8" stroke-width="1.30" points="385.02,135.00 427.81,135.00 427.81,70.10 445.74,70.10 445.74,49.80 459.65,49.80 459.65,32.60 471.50,32.60 471.50,78.30 482.05,78.30 482.05,120.00 491.70,120.00 491.70,140.00 500.67,140.00 500.67,170.50 509.13,170.50 509.13,178.20 517.16,178.20 517.16,187.00 524.85,187.00 524.85,187.30 532.25,187.30 532.25,188.70 539.42,188.70 539.42,192.20 546.39,192.20 546.39,193.50 553.18,193.50 553.18,196.20 559.83,196.20 559.83,197.90 566.35,197.90 566.35,201.30 572.76,201.30 572.76,207.50 579.09,207.50 579.09,214.90 585.33,214.90 585.33,218.00 591.52,218.00 591.52,222.00 597.65,222.00 597.65,222.00 603.74,222.00 603.74,221.50 609.81,221.50 609.81,221.00 615.85,221.00 615.85,219.10 621.88,219.10 621.88,219.00"/>
<rect x="382.52" y="132.50" width="5.00" height="5.00" fill="#1a64a8"/>
<rect x="425.31" y="132.50" width="5.00" height="5.00" fill="#1a64a8"/>
<rect x="425.31" y="67.60" width="5.00" height="5.00" fill="#1a64a8"/>
<rect x="443.24" y="67.60" width="5.00" height="5.00" fill="#1a64a8"/>
<rect x="443.24" y="47.30" width="5.00" height="5.00" fill="#1a64a8"/>
<rect x="457.15" y="47.30" width="5.00" height="5.00" fill="#1a64a8"/>
<rect x="457.15" y="30.10" width="5.00" height="5.00" fill="#1a64a8"/>
<rect x="469.00" y="30.10" width="5.00" height="5.00" fill="#1a64a8"/>
<rect x="469.00" y="75.80" width="5.00" height="5.00" fill="#1a64a8"/>
<rect x="479.55" y="75.80" width="5.00" height="5.00" fill="#1a64a8"/>
<rect x="479.55" y="117.50" width="5.00" height="5.00" fill="#1a64a8"/>
<rect x="489.20" y="117.50" width="5.00" height="5.00" fill="#1a64a8"/>
<rect x="489.20" y="137.50" width="5.00" height="5.00" fill="#1a64a8"/>
<rect x="498.17" y="137.50" width="5.00" height="5.00" fill="#1a64a8"/>
<rect x="498.17" y="168.00" width="5.00" height="5.00" fill="#1a64a8"/>
<rect x="506.63" y="168.00" width="5.00" height="5.00" fill="#1a64a8"/>
<rect x="506.63" y="175.70" width="5.00" height="5.00" fill="#1a64a8"/>
<rect x="514.66" y="175.70" width="5.00" height="5.00" fill="#1a64a8"/>
<rect x="514.66" y="184.50" width="5.00" height="5.00" fill="#1a64a8"/>
<rect x="522.35" y="184.50" width="5.00" height="5.00" fill="#1a64a8"/>
<rect x="522.35" y="184.80" width="5.00" height="5.00" fill="#1a64a8"/>
<rect x="529.75" y="184.80" width="5.00" height="5.00" fill="#1a64a8"/>
<rect x="529.75" y="186.20" width="5.00" height="5.00" fill="#1a64a8"/>
<rect x="536.92" y="186.20" width="5.00" height="5.00" fill="#1a64a8"/>
<rect x="536.92" y="189.70" width="5.00" height="5.00" fill="#1a64a8"/>
<rect x="543.89" y="189.70" width="5.00" height="5.00" fill="#1a64a8"/>
<rect x="543.89" y="191.00" width="5.00" height="5.00" fill="#1a64a8"/>
<rect x="550.68" y="191.00" width="5.00" height="5.00" fill="#1a64a8"/>
<rect x="550.68" y="193.70" width="5.00" height="5.00" fill="#1a64a8"/>
<rect x="557.33" y="193.70" width="5.00" height="5.00" fill="#1a64a8"/>
<rect x="557.33" y="195.40" width="5.00" height="5.00" fill="#1a64a8"/>
<rect x="563.85" y="195.40" width="5.00" height="5.00" fill="#1a64a8"/>
<rect x="563.85" y="198.80" width="5.00" height="5.00" fill="#1a64a8"/>
<rect x="570.26" y="198.80" width="5.00" height="5.00" fill="#1a64a8"/>
<rect x="570.26" y="205.00" width="5.00" height="5.00" fill="#1a64a8"/>
<rect x="576.59" y="205.00" width="5.00" height="5.00" fill="#1a64a8"/>
<rect x="576.59" y="212.40" width="5.00" height="5.00" fill="#1a64a8"/>
<rect x="582.83" y="212.40" width="5.00" height="5.00" fill="#1a64a8"/>
<rect x="582.83" y="215.50" width="5.00" height="5.00" fill="#1a64a8"/>
<rect x="589.02" y="215.50" width="5.00" height="5.00" fill="#1a64a8"/>
<rect x="589.02" y="219.50" width="5.00" height="5.00" fill="#1a64a8"/>
<rect x="595.15" y="219.50" width="5.00" height="5.00" fill="#1a64a8"/>
<rect x="595.15" y="219.50" width="5.00" height="5.00" fill="#1a64a8"/>
<rect x="601.24" y="219.50" width="5.00" height="5.00" fill="#1a64a8"/>
<rect x="601.24" y="219.00" width="5.00" height="5.00" fill="#1a64a8"/>
<rect x="607.31" y="219.00" width="5.00" height="5.00" fill="#1a64a8"/>
<rect x="607.31" y="218.50" width="5.00" height="5.00" fill="#1a64a8"/>
<rect x="613.35" y="218.50" width="5.00" height="5.00" fill="#1a64a8"/>
<rect x="613.35" y="216.60" width="5.00" height="5.00" fill="#1a64a8"/>
<rect x="619.38" y="216.60" width="5.00" height="5.00" fill="#1a64a8"/>
<rect x="619.38" y="216.50" width="5.00" height="5.00" fill="#1a64a8"/>
<polyline fill="none" stroke="#4a0a0a" stroke-width="1.30" points="385.02,91.80 427.81,91.80 427.81,30.80 445.74,30.80 445.74,24.60 459.65,24.60 459.65,21.60 471.50,21.60 471.50,88.00 482.05,88.00 482.05,137.30 491.70,137.30 491.70,153.80 500.67,153.80 500.67,170.20 509.13,170.20 509.13,184.20 517.16,184.20 517.16,187.50 524.85,187.50 524.85,191.30 532.25,191.30 532.25,193.40 539.42,193.40 539.42,196.90 546.39,196.90 546.39,199.00 553.18,199.00 553.18,202.50 559.83,202.50 559.83,204.50 566.35,204.50 566.35,207.40 572.76,207.40 572.76,213.10 579.09,213.10 579.09,218.20 585.33,218.20 585.33,220.50 591.52,220.50 591.52,222.80 597.65,222.80 597.65,225.30 603.74,225.30 603.74,222.80 609.81,222.80 609.81,221.90 615.85,221.90 615.85,220.40 621.88,220.40 621.88,220.20"/>
<rect x="382.52" y="89.30" width="5.00" height="5.00" fill="#4a0a0a"/>
<rect x="425.31" y="89.30" width="5.00" height="5.00" fill="#4a0a0a"/>
<rect x="425.31" y="28.30" width="5.00" height="5.00" fill="#4a0a0a"/>
<rect x="443.24" y="28.30" width="5.00" height="5.00" fill="#4a0a0a"/>
<rect x="443.24" y="22.10" width="5.00" height="5.00" fill="#4a0a0a"/>
<rect x="457.15" y="22.10" width="5.00" height="5.00" fill="#4a0a0a"/>
<rect x="457.15" y="19.10" width="5.00" height="5.00" fill="#4a0a0a"/>
<rect x="469.00" y="19.10" width="5.00" height="5.00" fill="#4a0a0a"/>
<rect x="469.00" y="85.50" width="5.00" height="5.00" fill="#4a0a0a"/>
<rect x="479.55" y="85.50" width="5.00" height="5.00" fill="#4a0a0a"/>
<rect x="479.55" y="134.80" width="5.00" height="5.00" fill="#4a0a0a"/>
<rect x="489.20" y="134.80" width="5.00" height="5.00" fill="#4a0a0a"/>
<rect x="489.20" y="151.30" width="5.00" height="5.00" fill="#4a0a0a"/>
<rect x="498.17" y="151.30" width="5.00" height="5.00" fill="#4a0a0a"/>
<rect x="498.17" y="167.70" width="5.00" height="5.00" fill="#4a0a0a"/>
<rect x="506.63" y="167.70" width="5.00" height="5.00" fill="#4a0a0a"/>
<rect x="506.63" y="181.70" width="5.00" height="5.00" fill="#4a0a0a"/>
<rect x="514.66" y="181.70" width="5.00" height="5.00" fill="#4a0a0a"/>
<rect x="514.66" y="185.00" width="5.00" height="5.00" fill="#4a0a0a"/>
<rect x="522.35" y="185.00" width="5.00" height="5.00" fill="#4a0a0a"/>
<rect x="522.35" y="188.80" width="5.00" height="5.00" fill="#4a0a0a"/>
<rect x="529.75" y="188.80" width="5.00" height="5.00" fill="#4a0a0a"/>
<rect x="529.75" y="190.90" width="5.00" height="5.00" fill="#4a0a0a"/>
<rect x="536.92" y="190.90" width="5.00" height="5.00" fill="#4a0a0a"/>
<rect x="536.92" y="194.40" width="5.00" height="5.00" fill="#4a0a0a"/>
<rect x="543.89" y="194.40" width="5.00" height="5.00" fill="#4a0a0a"/>
<rect x="543.89" y="196.50" width="5.00" height="5.00" fill="#4a0a0a"/>
<rect x="550.68" y="196.50" width="5.00" height="5.00" fill="#4a0a0a"/>
<rect x="550.68" y="200.00" width="5.00" height="5.00" fill="#4a0a0a"/>
<rect x="557.33" y="200.00" width="5.00" height="5.00" fill="#4a0a0a"/>
<rect x="557.33" y="202.00" width="5.00" height="5.00" fill="#4a0a0a"/>
<rect x="563.85" y="202.00" width="5.00" height="5.00" fill="#4a0a0a"/>
<rect x="563.85" y="204.90" width="5.00" height="5.00" fill="#4a0a0a"/>
<rect x="570.26" y="204.90" width="5.00" height="5.00" fill="#4a0a0a"/>
<rect x="570.26" y="210.60" width="5.00" height="5.00" fill="#4a0a0a"/>
<rect x="576.59" y="210.60" width="5.00" height="5.00" fill="#4a0a0a"/>
<rect x="576.59" y="215.70" width="5.00" height="5.00" fill="#4a0a0a"/>
<rect x="582.83" y="215.70" width="5.00" height="5.00" fill="#4a0a0a"/>
<rect x="582.83" y="218.00" width="5.00" height="5.00" fill="#4a0a0a"/>
<rect x="589.02" y="218.00" width="5.00" height="5.00" fill="#4a0a0a"/>
<rect x="589.02" y="220.30" width="5.00" height="5.00" fill="#4a0a0a"/>
<rect x="595.15" y="220.30" width="5.00" height="5.00" fill="#4a0a0a"/>
<rect x="595.15" y="222.80" width="5.00" height="5.00" fill="#4a0a0a"/>
<rect x="601.24" y="222.80" width="5.00" height="5.00" fill="#4a0a0a"/>
<rect x="601.24" y="220.30" width="5.00" height="5.00" fill="#4a0a0a"/>
<rect x="607.31" y="220.30" width="5.00" height="5.00" fill="#4a0a0a"/>
<rect x="607.31" y="219.40" width="5.00" height="5.00" fill="#4a0a0a"/>
<rect x="613.35" y="219.40" width="5.00" height="5.00" fill="#4a0a0a"/>
<rect x="613.35" y="217.90" width="5.00" height="5.00" fill="#4a0a0a"/>
<rect x="619.38" y="217.90" width="5.00" height="5.00" fill="#4a0a0a"/>
<rect x="619.38" y="217.70" width="5.00" height="5.00" fill="#4a0a0a"/>
<polyline fill="none" stroke="#f6b400" stroke-width="1.30" points="385.02,214.30 427.81,214.30 427.81,183.00 445.74,183.00 445.74,157.40 459.65,157.40 459.65,131.50 471.50,131.50 471.50,132.50 482.05,132.50 482.05,142.00 491.70,142.00 491.70,150.50 500.67,150.50 500.67,160.00 509.13,160.00 509.13,171.00 517.16,171.00 517.16,172.50 524.85,172.50 524.85,167.00 532.25,167.00 532.25,165.60 539.42,165.60 539.42,165.50 546.39,165.50 546.39,165.20 553.18,165.20 553.18,164.50 559.83,164.50 559.83,163.70 566.35,163.70 566.35,164.50 572.76,164.50 572.76,171.00 579.09,171.00 579.09,180.00 585.33,180.00 585.33,183.50 591.52,183.50 591.52,190.00 597.65,190.00 597.65,195.00 603.74,195.00 603.74,192.00 609.81,192.00 609.81,193.40 615.85,193.40 615.85,192.60 621.88,192.60 621.88,191.90"/>
<rect x="382.52" y="211.80" width="5.00" height="5.00" fill="#f6b400"/>
<rect x="425.31" y="211.80" width="5.00" height="5.00" fill="#f6b400"/>
<rect x="425.31" y="180.50" width="5.00" height="5.00" fill="#f6b400"/>
<rect x="443.24" y="180.50" width="5.00" height="5.00" fill="#f6b400"/>
<rect x="443.24" y="154.90" width="5.00" height="5.00" fill="#f6b400"/>
<rect x="457.15" y="154.90" width="5.00" height="5.00" fill="#f6b400"/>
<rect x="457.15" y="129.00" width="5.00" height="5.00" fill="#f6b400"/>
<rect x="469.00" y="129.00" width="5.00" height="5.00" fill="#f6b400"/>
<rect x="469.00" y="130.00" width="5.00" height="5.00" fill="#f6b400"/>
<rect x="479.55" y="130.00" width="5.00" height="5.00" fill="#f6b400"/>
<rect x="479.55" y="139.50" width="5.00" height="5.00" fill="#f6b400"/>
<rect x="489.20" y="139.50" width="5.00" height="5.00" fill="#f6b400"/>
<rect x="489.20" y="148.00" width="5.00" height="5.00" fill="#f6b400"/>
<rect x="498.17" y="148.00" width="5.00" height="5.00" fill="#f6b400"/>
<rect x="498.17" y="157.50" width="5.00" height="5.00" fill="#f6b400"/>
<rect x="506.63" y="157.50" width="5.00" height="5.00" fill="#f6b400"/>
<rect x="506.63" y="168.50" width="5.00" height="5.00" fill="#f6b400"/>
<rect x="514.66" y="168.50" width="5.00" height="5.00" fill="#f6b400"/>
<rect x="514.66" y="170.00" width="5.00" height="5.00" fill="#f6b400"/>
<rect x="522.35" y="170.00" width="5.00" height="5.00" fill="#f6b400"/>
<rect x="522.35" y="164.50" width="5.00" height="5.00" fill="#f6b400"/>
<rect x="529.75" y="164.50" width="5.00" height="5.00" fill="#f6b400"/>
<rect x="529.75" y="163.10" width="5.00" height="5.00" fill="#f6b400"/>
<rect x="536.92" y="163.10" width="5.00" height="5.00" fill="#f6b400"/>
<rect x="536.92" y="163.00" width="5.00" height="5.00" fill="#f6b400"/>
<rect x="543.89" y="163.00" width="5.00" height="5.00" fill="#f6b400"/>
<rect x="543.89" y="162.70" width="5.00" height="5.00" fill="#f6b400"/>
<rect x="550.68" y="162.70" width="5.00" height="5.00" fill="#f6b400"/>
<rect x="550.68" y="162.00" width="5.00" height="5.00" fill="#f6b400"/>
<rect x="557.33" y="162.00" width="5.00" height="5.00" fill="#f6b400"/>
<rect x="557.33" y="161.20" width="5.00" height="5.00" fill="#f6b400"/>
<rect x="563.85" y="161.20" width="5.00" height="5.00" fill="#f6b400"/>
<rect x="563.85" y="162.00" width="5.00" height="5.00" fill="#f6b400"/>
<rect x="570.26" y="162.00" width="5.00" height="5.00" fill="#f6b400"/>
<rect x="570.26" y="168.50" width="5.00" height="5.00" fill="#f6b400"/>
<rect x="576.59" y="168.50" width="5.00" height="5.00" fill="#f6b400"/>
<rect x="576.59" y="177.50" width="5.00" height="5.00" fill="#f6b400"/>
<rect x="582.83" y="177.50" width="5.00" height="5.00" fill="#f6b400"/>
<rect x="582.83" y="181.00" width="5.00" height="5.00" fill="#f6b400"/>
<rect x="589.02" y="181.00" width="5.00" height="5.00" fill="#f6b400"/>
<rect x="589.02" y="187.50" width="5.00" height="5.00" fill="#f6b400"/>
<rect x="595.15" y="187.50" width="5.00" height="5.00" fill="#f6b400"/>
<rect x="595.15" y="192.50" width="5.00" height="5.00" fill="#f6b400"/>
<rect x="601.24" y="192.50" width="5.00" height="5.00" fill="#f6b400"/>
<rect x="601.24" y="189.50" width="5.00" height="5.00" fill="#f6b400"/>
<rect x="607.31" y="189.50" width="5.00" height="5.00" fill="#f6b400"/>
<rect x="607.31" y="190.90" width="5.00" height="5.00" fill="#f6b400"/>
<rect x="613.35" y="190.90" width="5.00" height="5.00" fill="#f6b400"/>
<rect x="613.35" y="190.10" width="5.00" height="5.00" fill="#f6b400"/>
<rect x="619.38" y="190.10" width="5.00" height="5.00" fill="#f6b400"/>
<rect x="619.38" y="189.40" width="5.00" height="5.00" fill="#f6b400"/>
<rect x="358.70" y="13.40" width="289.50" height="233.50" fill="none" stroke="#000" stroke-width="1.8"/>
<path d="M358.70 246.90H363.70M648.20 246.90H643.20M358.70 227.44H361.70M648.20 227.44H645.20M358.70 207.98H363.70M648.20 207.98H643.20M358.70 188.53H361.70M648.20 188.53H645.20M358.70 169.07H363.70M648.20 169.07H643.20M358.70 149.61H361.70M648.20 149.61H645.20M358.70 130.15H363.70M648.20 130.15H643.20M358.70 110.69H361.70M648.20 110.69H645.20M358.70 91.23H363.70M648.20 91.23H643.20M358.70 71.78H361.70M648.20 71.78H645.20M358.70 52.32H363.70M648.20 52.32H643.20M358.70 32.86H361.70M648.20 32.86H645.20M358.70 13.40H363.70M648.20 13.40H643.20M385.02 246.90V241.90M385.02 13.40V18.40M411.34 246.90V243.90M411.34 13.40V16.40M437.65 246.90V241.90M437.65 13.40V18.40M463.97 246.90V243.90M463.97 13.40V16.40M490.29 246.90V241.90M490.29 13.40V18.40M516.61 246.90V243.90M516.61 13.40V16.40M542.93 246.90V241.90M542.93 13.40V18.40M569.25 246.90V243.90M569.25 13.40V16.40M595.56 246.90V241.90M595.56 13.40V18.40M621.88 246.90V243.90M621.88 13.40V16.40M648.20 246.90V241.90M648.20 13.40V18.40" stroke="#000" stroke-width="1.6" fill="none"/>
<text x="353.2" y="250.30" font-family='"Liberation Sans", sans-serif' font-size="9.5" font-weight="bold" text-anchor="end" fill="#000">0,00</text>
<text x="353.2" y="211.38" font-family='"Liberation Sans", sans-serif' font-size="9.5" font-weight="bold" text-anchor="end" fill="#000">0,02</text>
<text x="353.2" y="172.47" font-family='"Liberation Sans", sans-serif' font-size="9.5" font-weight="bold" text-anchor="end" fill="#000">0,04</text>
<text x="353.2" y="133.55" font-family='"Liberation Sans", sans-serif' font-size="9.5" font-weight="bold" text-anchor="end" fill="#000">0,06</text>
<text x="353.2" y="94.63" font-family='"Liberation Sans", sans-serif' font-size="9.5" font-weight="bold" text-anchor="end" fill="#000">0,08</text>
<text x="353.2" y="55.72" font-family='"Liberation Sans", sans-serif' font-size="9.5" font-weight="bold" text-anchor="end" fill="#000">0,10</text>
<text x="353.2" y="16.80" font-family='"Liberation Sans", sans-serif' font-size="9.5" font-weight="bold" text-anchor="end" fill="#000">0,12</text>
<text x="385.02" y="260.2" font-family='"Liberation Sans", sans-serif' font-size="9.5" font-weight="bold" text-anchor="middle" fill="#000">0</text>
<text x="437.65" y="260.2" font-family='"Liberation Sans", sans-serif' font-size="9.5" font-weight="bold" text-anchor="middle" fill="#000">20</text>
<text x="490.29" y="260.2" font-family='"Liberation Sans", sans-serif' font-size="9.5" font-weight="bold" text-anchor="middle" fill="#000">40</text>
<text x="542.93" y="260.2" font-family='"Liberation Sans", sans-serif' font-size="9.5" font-weight="bold" text-anchor="middle" fill="#000">60</text>
<text x="595.56" y="260.2" font-family='"Liberation Sans", sans-serif' font-size="9.5" font-weight="bold" text-anchor="middle" fill="#000">80</text>
<text x="648.20" y="260.2" font-family='"Liberation Sans", sans-serif' font-size="9.5" font-weight="bold" text-anchor="middle" fill="#000">100</text>
<text x="503.7" y="280.8" font-family='"Liberation Serif", serif' font-size="12.7" text-anchor="middle" fill="#111">K</text>
<text transform="translate(330.0 130.4) rotate(-90)" x="0" y="0" font-family='"Liberation Sans", sans-serif' font-size="12" font-weight="bold" text-anchor="middle" fill="#111">Orientation fraction</text>
<text x="312.6" y="19.2" font-family='"Liberation Sans", sans-serif' font-size="20.5" fill="#111">e)</text>
<rect x="528.6" y="20.5" width="113.2" height="63.0" fill="#fff" stroke="#7a7a7a" stroke-width="1"/>
<line x1="529.9" y1="28.80" x2="558.1" y2="28.80" stroke="#cc2ff0" stroke-width="1.7"/>
<rect x="541.20" y="26.20" width="5.2" height="5.2" fill="#cc2ff0"/>
<text x="561.0" y="33.30" font-family='"Liberation Sans", sans-serif' font-size="12.1" font-weight="bold" fill="#000">SPS_MSG750</text>
<line x1="529.9" y1="44.13" x2="558.1" y2="44.13" stroke="#4a0a0a" stroke-width="1.7"/>
<rect x="541.20" y="41.53" width="5.2" height="5.2" fill="#4a0a0a"/>
<text x="561.0" y="48.63" font-family='"Liberation Sans", sans-serif' font-size="12.1" font-weight="bold" fill="#000">SPS_MSG800</text>
<line x1="529.9" y1="59.46" x2="558.1" y2="59.46" stroke="#173a3a" stroke-width="1.7"/>
<rect x="541.20" y="56.86" width="5.2" height="5.2" fill="#173a3a"/>
<text x="561.0" y="63.96" font-family='"Liberation Sans", sans-serif' font-size="12.1" font-weight="bold" fill="#000">SPS_MSG850</text>
<line x1="529.9" y1="74.79" x2="558.1" y2="74.79" stroke="#f6b400" stroke-width="1.7"/>
<rect x="541.20" y="72.19" width="5.2" height="5.2" fill="#f6b400"/>
<text x="561.0" y="79.29" font-family='"Liberation Sans", sans-serif' font-size="12.1" font-weight="bold" fill="#000">SPS_CSG</text>
</svg>
</body></html>
